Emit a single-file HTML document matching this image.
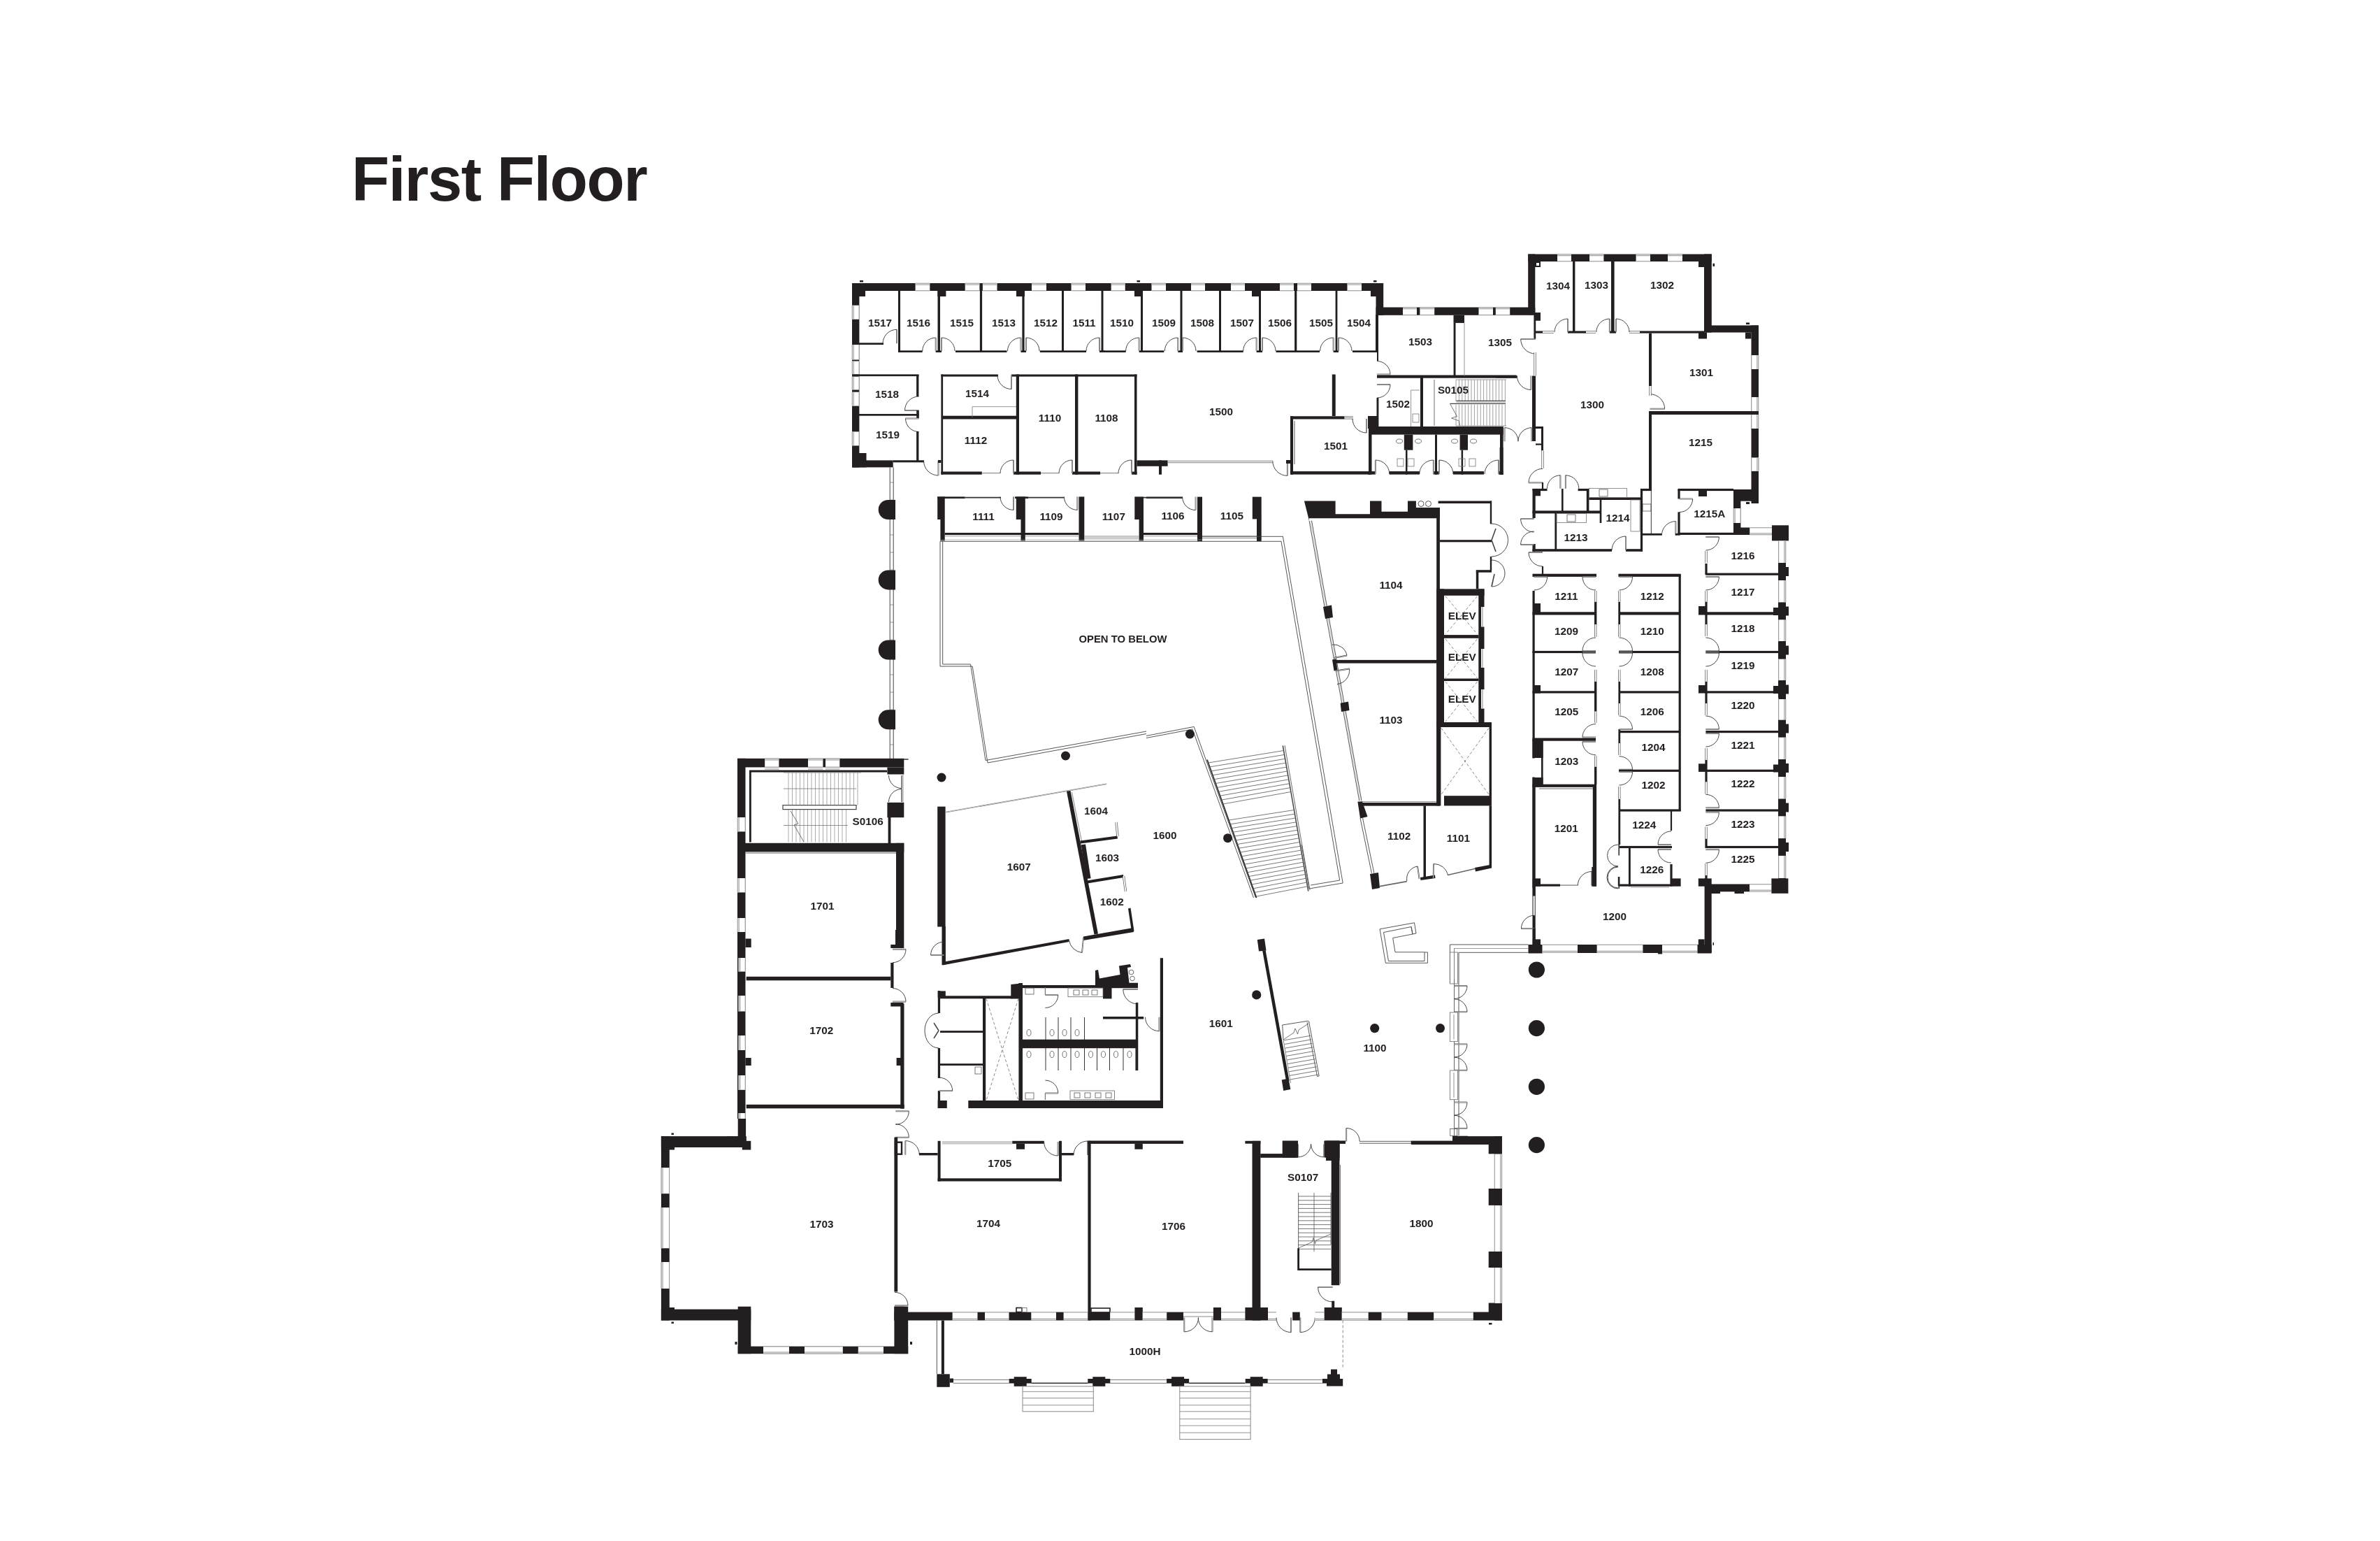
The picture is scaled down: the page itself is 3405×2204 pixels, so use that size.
<!DOCTYPE html>
<html><head><meta charset="utf-8"><style>
html,body{margin:0;padding:0;background:#fff;}
body{width:3405px;height:2204px;overflow:hidden;position:relative;}
svg{position:absolute;left:0;top:0;will-change:transform;}
text{font-family:"Liberation Sans",sans-serif;font-weight:bold;fill:#231f20;}
</style></head><body>
<svg width="3405" height="2204" viewBox="0 0 3405 2204">
<text x="503" y="286.5" font-size="88.5" letter-spacing="-1.4">First Floor</text>
<rect x="1219.0" y="405.0" width="760.0" height="11.0" fill="#231f20"/>
<rect x="1219.0" y="405.0" width="10.4" height="263.4" fill="#231f20"/>
<rect x="1219.0" y="658.4" width="58.7" height="10.0" fill="#231f20"/>
<rect x="1219.0" y="416.0" width="19.0" height="8.0" fill="#231f20"/>
<rect x="1219.0" y="648.0" width="20.5" height="20.4" fill="#231f20"/>
<rect x="1970.0" y="405.0" width="9.0" height="45.4" fill="#231f20"/>
<rect x="1961.0" y="416.0" width="9.0" height="8.0" fill="#231f20"/>
<rect x="1341.4" y="416.0" width="12.0" height="8.0" fill="#231f20"/>
<rect x="1454.0" y="416.0" width="12.0" height="8.0" fill="#231f20"/>
<rect x="1623.0" y="416.0" width="12.0" height="8.0" fill="#231f20"/>
<rect x="1791.0" y="416.0" width="12.0" height="8.0" fill="#231f20"/>
<rect x="1309.6" y="405.0" width="20.7" height="11.0" fill="#fff"/>
<rect x="1309.6" y="404.7" width="20.7" height="1.1" fill="#999"/>
<rect x="1309.6" y="406.6" width="20.7" height="1.1" fill="#999"/>
<rect x="1309.6" y="415.2" width="20.7" height="1.1" fill="#999"/>
<rect x="1380.7" y="405.0" width="20.7" height="11.0" fill="#fff"/>
<rect x="1380.7" y="404.7" width="20.7" height="1.1" fill="#999"/>
<rect x="1380.7" y="406.6" width="20.7" height="1.1" fill="#999"/>
<rect x="1380.7" y="415.2" width="20.7" height="1.1" fill="#999"/>
<rect x="1405.9" y="405.0" width="20.6" height="11.0" fill="#fff"/>
<rect x="1405.9" y="404.7" width="20.6" height="1.1" fill="#999"/>
<rect x="1405.9" y="406.6" width="20.6" height="1.1" fill="#999"/>
<rect x="1405.9" y="415.2" width="20.6" height="1.1" fill="#999"/>
<rect x="1476.0" y="405.0" width="21.0" height="11.0" fill="#fff"/>
<rect x="1476.0" y="404.7" width="21.0" height="1.1" fill="#999"/>
<rect x="1476.0" y="406.6" width="21.0" height="1.1" fill="#999"/>
<rect x="1476.0" y="415.2" width="21.0" height="1.1" fill="#999"/>
<rect x="1532.6" y="405.0" width="20.4" height="11.0" fill="#fff"/>
<rect x="1532.6" y="404.7" width="20.4" height="1.1" fill="#999"/>
<rect x="1532.6" y="406.6" width="20.4" height="1.1" fill="#999"/>
<rect x="1532.6" y="415.2" width="20.4" height="1.1" fill="#999"/>
<rect x="1589.7" y="405.0" width="20.0" height="11.0" fill="#fff"/>
<rect x="1589.7" y="404.7" width="20.0" height="1.1" fill="#999"/>
<rect x="1589.7" y="406.6" width="20.0" height="1.1" fill="#999"/>
<rect x="1589.7" y="415.2" width="20.0" height="1.1" fill="#999"/>
<rect x="1647.5" y="405.0" width="20.5" height="11.0" fill="#fff"/>
<rect x="1647.5" y="404.7" width="20.5" height="1.1" fill="#999"/>
<rect x="1647.5" y="406.6" width="20.5" height="1.1" fill="#999"/>
<rect x="1647.5" y="415.2" width="20.5" height="1.1" fill="#999"/>
<rect x="1704.0" y="405.0" width="20.0" height="11.0" fill="#fff"/>
<rect x="1704.0" y="404.7" width="20.0" height="1.1" fill="#999"/>
<rect x="1704.0" y="406.6" width="20.0" height="1.1" fill="#999"/>
<rect x="1704.0" y="415.2" width="20.0" height="1.1" fill="#999"/>
<rect x="1761.0" y="405.0" width="20.0" height="11.0" fill="#fff"/>
<rect x="1761.0" y="404.7" width="20.0" height="1.1" fill="#999"/>
<rect x="1761.0" y="406.6" width="20.0" height="1.1" fill="#999"/>
<rect x="1761.0" y="415.2" width="20.0" height="1.1" fill="#999"/>
<rect x="1831.0" y="405.0" width="20.0" height="11.0" fill="#fff"/>
<rect x="1831.0" y="404.7" width="20.0" height="1.1" fill="#999"/>
<rect x="1831.0" y="406.6" width="20.0" height="1.1" fill="#999"/>
<rect x="1831.0" y="415.2" width="20.0" height="1.1" fill="#999"/>
<rect x="1856.0" y="405.0" width="20.0" height="11.0" fill="#fff"/>
<rect x="1856.0" y="404.7" width="20.0" height="1.1" fill="#999"/>
<rect x="1856.0" y="406.6" width="20.0" height="1.1" fill="#999"/>
<rect x="1856.0" y="415.2" width="20.0" height="1.1" fill="#999"/>
<rect x="1927.5" y="405.0" width="20.5" height="11.0" fill="#fff"/>
<rect x="1927.5" y="404.7" width="20.5" height="1.1" fill="#999"/>
<rect x="1927.5" y="406.6" width="20.5" height="1.1" fill="#999"/>
<rect x="1927.5" y="415.2" width="20.5" height="1.1" fill="#999"/>
<rect x="1219.0" y="436.7" width="10.4" height="20.0" fill="#fff"/>
<rect x="1218.7" y="436.7" width="1.1" height="20.0" fill="#999"/>
<rect x="1220.6" y="436.7" width="1.1" height="20.0" fill="#999"/>
<rect x="1228.6" y="436.7" width="1.1" height="20.0" fill="#999"/>
<rect x="1219.0" y="493.0" width="10.4" height="21.5" fill="#fff"/>
<rect x="1218.7" y="493.0" width="1.1" height="21.5" fill="#999"/>
<rect x="1220.6" y="493.0" width="1.1" height="21.5" fill="#999"/>
<rect x="1228.6" y="493.0" width="1.1" height="21.5" fill="#999"/>
<rect x="1219.0" y="516.5" width="10.4" height="19.0" fill="#fff"/>
<rect x="1218.7" y="516.5" width="1.1" height="19.0" fill="#999"/>
<rect x="1220.6" y="516.5" width="1.1" height="19.0" fill="#999"/>
<rect x="1228.6" y="516.5" width="1.1" height="19.0" fill="#999"/>
<rect x="1219.0" y="538.6" width="10.4" height="18.9" fill="#fff"/>
<rect x="1218.7" y="538.6" width="1.1" height="18.9" fill="#999"/>
<rect x="1220.6" y="538.6" width="1.1" height="18.9" fill="#999"/>
<rect x="1228.6" y="538.6" width="1.1" height="18.9" fill="#999"/>
<rect x="1219.0" y="560.7" width="10.4" height="19.9" fill="#fff"/>
<rect x="1218.7" y="560.7" width="1.1" height="19.9" fill="#999"/>
<rect x="1220.6" y="560.7" width="1.1" height="19.9" fill="#999"/>
<rect x="1228.6" y="560.7" width="1.1" height="19.9" fill="#999"/>
<rect x="1219.0" y="617.4" width="10.4" height="20.0" fill="#fff"/>
<rect x="1218.7" y="617.4" width="1.1" height="20.0" fill="#999"/>
<rect x="1220.6" y="617.4" width="1.1" height="20.0" fill="#999"/>
<rect x="1228.6" y="617.4" width="1.1" height="20.0" fill="#999"/>
<rect x="1230.0" y="401.0" width="5.0" height="2.5" fill="#231f20"/>
<rect x="1626.5" y="401.0" width="4.5" height="2.5" fill="#231f20"/>
<rect x="1965.0" y="401.0" width="4.5" height="2.5" fill="#231f20"/>
<rect x="1285.0" y="416.0" width="3.0" height="88.0" fill="#231f20"/>
<rect x="1341.5" y="416.0" width="3.5" height="88.0" fill="#231f20"/>
<rect x="1401.9" y="416.0" width="3.2" height="88.0" fill="#231f20"/>
<rect x="1462.4" y="416.0" width="3.2" height="88.0" fill="#231f20"/>
<rect x="1519.0" y="416.0" width="3.0" height="88.0" fill="#231f20"/>
<rect x="1575.5" y="416.0" width="3.0" height="88.0" fill="#231f20"/>
<rect x="1632.0" y="416.0" width="3.0" height="88.0" fill="#231f20"/>
<rect x="1688.5" y="416.0" width="3.0" height="88.0" fill="#231f20"/>
<rect x="1744.0" y="416.0" width="3.0" height="88.0" fill="#231f20"/>
<rect x="1801.0" y="416.0" width="3.0" height="88.0" fill="#231f20"/>
<rect x="1852.1" y="416.0" width="3.2" height="88.0" fill="#231f20"/>
<rect x="1910.6" y="416.0" width="2.8" height="88.0" fill="#231f20"/>
<rect x="1969.0" y="416.0" width="9.0" height="34.0" fill="#231f20"/>
<rect x="1968.0" y="450.0" width="4.0" height="54.0" fill="#231f20"/>
<rect x="1229.0" y="490.3" width="35.0" height="2.7" fill="#231f20"/>
<rect x="1285.0" y="501.3" width="34.7" height="2.7" fill="#231f20"/>
<rect x="1338.7" y="501.3" width="8.3" height="2.7" fill="#231f20"/>
<rect x="1367.0" y="501.3" width="73.5" height="2.7" fill="#231f20"/>
<rect x="1460.5" y="501.3" width="7.5" height="2.7" fill="#231f20"/>
<rect x="1487.8" y="501.3" width="66.2" height="2.7" fill="#231f20"/>
<rect x="1573.0" y="501.3" width="7.6" height="2.7" fill="#231f20"/>
<rect x="1573.0" y="501.3" width="37.7" height="2.7" fill="#231f20"/>
<rect x="1629.6" y="501.3" width="35.7" height="2.7" fill="#231f20"/>
<rect x="1685.3" y="501.3" width="6.7" height="2.7" fill="#231f20"/>
<rect x="1712.6" y="501.3" width="66.1" height="2.7" fill="#231f20"/>
<rect x="1797.6" y="501.3" width="8.4" height="2.7" fill="#231f20"/>
<rect x="1825.5" y="501.3" width="62.5" height="2.7" fill="#231f20"/>
<rect x="1907.6" y="501.3" width="7.4" height="2.7" fill="#231f20"/>
<rect x="1935.0" y="501.3" width="37.0" height="2.7" fill="#231f20"/>
<line x1="1283.0" y1="491.3" x2="1283.0" y2="471.3" stroke="#444" stroke-width="1.8"/>
<line x1="1283.0" y1="491.3" x2="1283.0" y2="471.3" stroke="#fff" stroke-width="0.6"/>
<path d="M1283.0,471.3 A20.0,20.0 0 0 0 1263.0,491.3" fill="none" stroke="#333" stroke-width="0.9"/>
<line x1="1338.7" y1="502.0" x2="1338.7" y2="483.0" stroke="#444" stroke-width="1.8"/>
<line x1="1338.7" y1="502.0" x2="1338.7" y2="483.0" stroke="#fff" stroke-width="0.6"/>
<path d="M1338.7,483.0 A19.0,19.0 0 0 0 1319.7,502.0" fill="none" stroke="#333" stroke-width="0.9"/>
<line x1="1347.0" y1="502.0" x2="1347.0" y2="483.0" stroke="#444" stroke-width="1.8"/>
<line x1="1347.0" y1="502.0" x2="1347.0" y2="483.0" stroke="#fff" stroke-width="0.6"/>
<path d="M1347.0,483.0 A19.0,19.0 0 0 1 1366.0,502.0" fill="none" stroke="#333" stroke-width="0.9"/>
<line x1="1460.5" y1="502.0" x2="1460.5" y2="483.0" stroke="#444" stroke-width="1.8"/>
<line x1="1460.5" y1="502.0" x2="1460.5" y2="483.0" stroke="#fff" stroke-width="0.6"/>
<path d="M1460.5,483.0 A19.0,19.0 0 0 0 1441.5,502.0" fill="none" stroke="#333" stroke-width="0.9"/>
<line x1="1468.0" y1="502.0" x2="1468.0" y2="483.0" stroke="#444" stroke-width="1.8"/>
<line x1="1468.0" y1="502.0" x2="1468.0" y2="483.0" stroke="#fff" stroke-width="0.6"/>
<path d="M1468.0,483.0 A19.0,19.0 0 0 1 1487.0,502.0" fill="none" stroke="#333" stroke-width="0.9"/>
<line x1="1573.0" y1="502.0" x2="1573.0" y2="483.0" stroke="#444" stroke-width="1.8"/>
<line x1="1573.0" y1="502.0" x2="1573.0" y2="483.0" stroke="#fff" stroke-width="0.6"/>
<path d="M1573.0,483.0 A19.0,19.0 0 0 0 1554.0,502.0" fill="none" stroke="#333" stroke-width="0.9"/>
<line x1="1629.6" y1="502.0" x2="1629.6" y2="483.0" stroke="#444" stroke-width="1.8"/>
<line x1="1629.6" y1="502.0" x2="1629.6" y2="483.0" stroke="#fff" stroke-width="0.6"/>
<path d="M1629.6,483.0 A19.0,19.0 0 0 0 1610.6,502.0" fill="none" stroke="#333" stroke-width="0.9"/>
<line x1="1685.3" y1="502.0" x2="1685.3" y2="483.0" stroke="#444" stroke-width="1.8"/>
<line x1="1685.3" y1="502.0" x2="1685.3" y2="483.0" stroke="#fff" stroke-width="0.6"/>
<path d="M1685.3,483.0 A19.0,19.0 0 0 0 1666.3,502.0" fill="none" stroke="#333" stroke-width="0.9"/>
<line x1="1692.0" y1="502.0" x2="1692.0" y2="483.0" stroke="#444" stroke-width="1.8"/>
<line x1="1692.0" y1="502.0" x2="1692.0" y2="483.0" stroke="#fff" stroke-width="0.6"/>
<path d="M1692.0,483.0 A19.0,19.0 0 0 1 1711.0,502.0" fill="none" stroke="#333" stroke-width="0.9"/>
<line x1="1797.6" y1="502.0" x2="1797.6" y2="483.0" stroke="#444" stroke-width="1.8"/>
<line x1="1797.6" y1="502.0" x2="1797.6" y2="483.0" stroke="#fff" stroke-width="0.6"/>
<path d="M1797.6,483.0 A19.0,19.0 0 0 0 1778.6,502.0" fill="none" stroke="#333" stroke-width="0.9"/>
<line x1="1806.0" y1="502.0" x2="1806.0" y2="483.0" stroke="#444" stroke-width="1.8"/>
<line x1="1806.0" y1="502.0" x2="1806.0" y2="483.0" stroke="#fff" stroke-width="0.6"/>
<path d="M1806.0,483.0 A19.0,19.0 0 0 1 1825.0,502.0" fill="none" stroke="#333" stroke-width="0.9"/>
<line x1="1907.6" y1="502.0" x2="1907.6" y2="483.0" stroke="#444" stroke-width="1.8"/>
<line x1="1907.6" y1="502.0" x2="1907.6" y2="483.0" stroke="#fff" stroke-width="0.6"/>
<path d="M1907.6,483.0 A19.0,19.0 0 0 0 1888.6,502.0" fill="none" stroke="#333" stroke-width="0.9"/>
<line x1="1915.0" y1="502.0" x2="1915.0" y2="483.0" stroke="#444" stroke-width="1.8"/>
<line x1="1915.0" y1="502.0" x2="1915.0" y2="483.0" stroke="#fff" stroke-width="0.6"/>
<path d="M1915.0,483.0 A19.0,19.0 0 0 1 1934.0,502.0" fill="none" stroke="#333" stroke-width="0.9"/>
<text x="1259.0" y="467.3" font-size="15.3" text-anchor="middle">1517</text>
<text x="1314.0" y="467.3" font-size="15.3" text-anchor="middle">1516</text>
<text x="1376.0" y="467.3" font-size="15.3" text-anchor="middle">1515</text>
<text x="1436.0" y="467.3" font-size="15.3" text-anchor="middle">1513</text>
<text x="1496.0" y="467.3" font-size="15.3" text-anchor="middle">1512</text>
<text x="1551.0" y="467.3" font-size="15.3" text-anchor="middle">1511</text>
<text x="1605.0" y="467.3" font-size="15.3" text-anchor="middle">1510</text>
<text x="1665.0" y="467.3" font-size="15.3" text-anchor="middle">1509</text>
<text x="1720.0" y="467.3" font-size="15.3" text-anchor="middle">1508</text>
<text x="1777.0" y="467.3" font-size="15.3" text-anchor="middle">1507</text>
<text x="1831.0" y="467.3" font-size="15.3" text-anchor="middle">1506</text>
<text x="1890.0" y="467.3" font-size="15.3" text-anchor="middle">1505</text>
<text x="1944.0" y="467.3" font-size="15.3" text-anchor="middle">1504</text>
<rect x="1219.0" y="535.4" width="95.5" height="2.7" fill="#231f20"/>
<rect x="1311.1" y="536.0" width="3.3" height="31.0" fill="#231f20"/>
<line x1="1314.5" y1="587.0" x2="1294.5" y2="587.0" stroke="#444" stroke-width="1.8"/>
<line x1="1314.5" y1="587.0" x2="1294.5" y2="587.0" stroke="#fff" stroke-width="0.6"/>
<path d="M1294.5,587.0 A20.0,20.0 0 0 1 1314.5,567.0" fill="none" stroke="#333" stroke-width="0.9"/>
<rect x="1229.0" y="592.0" width="85.5" height="2.7" fill="#231f20"/>
<rect x="1311.2" y="587.0" width="3.6" height="11.5" fill="#231f20"/>
<line x1="1314.5" y1="598.5" x2="1295.5" y2="598.5" stroke="#444" stroke-width="1.8"/>
<line x1="1314.5" y1="598.5" x2="1295.5" y2="598.5" stroke="#fff" stroke-width="0.6"/>
<path d="M1295.5,598.5 A19.0,19.0 0 0 0 1314.5,617.5" fill="none" stroke="#333" stroke-width="0.9"/>
<rect x="1311.1" y="617.0" width="3.3" height="43.0" fill="#231f20"/>
<rect x="1277.7" y="658.3" width="44.3" height="3.0" fill="#231f20"/>
<text x="1269.0" y="569.3" font-size="15.3" text-anchor="middle">1518</text>
<text x="1270.0" y="626.8" font-size="15.3" text-anchor="middle">1519</text>
<rect x="1346.4" y="535.5" width="81.6" height="3.1" fill="#231f20"/>
<rect x="1447.0" y="535.5" width="179.5" height="3.1" fill="#231f20"/>
<line x1="1447.0" y1="536.5" x2="1447.0" y2="556.5" stroke="#444" stroke-width="1.8"/>
<line x1="1447.0" y1="536.5" x2="1447.0" y2="556.5" stroke="#fff" stroke-width="0.6"/>
<path d="M1447.0,556.5 A20.0,20.0 0 0 1 1427.0,536.5" fill="none" stroke="#333" stroke-width="0.9"/>
<rect x="1346.4" y="535.5" width="2.7" height="143.2" fill="#231f20"/>
<rect x="1349.0" y="594.7" width="109.0" height="4.8" fill="#231f20"/>
<polyline points="1391.0,597.0 1391.0,581.7 1454.0,581.7" fill="none" stroke="#777" stroke-width="0.8"/>
<rect x="1453.8" y="535.5" width="4.2" height="143.2" fill="#231f20"/>
<rect x="1538.0" y="535.5" width="4.4" height="143.2" fill="#231f20"/>
<rect x="1623.0" y="535.5" width="3.5" height="143.2" fill="#231f20"/>
<rect x="1346.4" y="674.5" width="58.4" height="4.2" fill="#231f20"/>
<rect x="1450.0" y="674.5" width="39.0" height="4.2" fill="#231f20"/>
<rect x="1534.0" y="674.5" width="40.0" height="4.2" fill="#231f20"/>
<rect x="1619.0" y="674.5" width="7.5" height="4.2" fill="#231f20"/>
<line x1="1404.8" y1="676.6" x2="1431.0" y2="676.6" stroke="#999" stroke-width="1.4"/>
<line x1="1489.0" y1="676.6" x2="1515.0" y2="676.6" stroke="#999" stroke-width="1.4"/>
<line x1="1574.0" y1="676.6" x2="1600.0" y2="676.6" stroke="#999" stroke-width="1.4"/>
<line x1="1450.0" y1="677.0" x2="1450.0" y2="658.0" stroke="#444" stroke-width="1.8"/>
<line x1="1450.0" y1="677.0" x2="1450.0" y2="658.0" stroke="#fff" stroke-width="0.6"/>
<path d="M1450.0,658.0 A19.0,19.0 0 0 0 1431.0,677.0" fill="none" stroke="#333" stroke-width="0.9"/>
<line x1="1534.0" y1="677.0" x2="1534.0" y2="658.0" stroke="#444" stroke-width="1.8"/>
<line x1="1534.0" y1="677.0" x2="1534.0" y2="658.0" stroke="#fff" stroke-width="0.6"/>
<path d="M1534.0,658.0 A19.0,19.0 0 0 0 1515.0,677.0" fill="none" stroke="#333" stroke-width="0.9"/>
<line x1="1619.0" y1="677.0" x2="1619.0" y2="658.0" stroke="#444" stroke-width="1.8"/>
<line x1="1619.0" y1="677.0" x2="1619.0" y2="658.0" stroke="#fff" stroke-width="0.6"/>
<path d="M1619.0,658.0 A19.0,19.0 0 0 0 1600.0,677.0" fill="none" stroke="#333" stroke-width="0.9"/>
<text x="1398.0" y="568.3" font-size="15.3" text-anchor="middle">1514</text>
<text x="1396.0" y="635.3" font-size="15.3" text-anchor="middle">1112</text>
<text x="1502.0" y="602.8" font-size="15.3" text-anchor="middle">1110</text>
<text x="1583.0" y="602.8" font-size="15.3" text-anchor="middle">1108</text>
<line x1="1342.5" y1="659.0" x2="1342.5" y2="680.0" stroke="#444" stroke-width="1.8"/>
<line x1="1342.5" y1="659.0" x2="1342.5" y2="680.0" stroke="#fff" stroke-width="0.6"/>
<path d="M1342.5,680.0 A21.0,21.0 0 0 1 1321.5,659.0" fill="none" stroke="#333" stroke-width="0.9"/>
<rect x="1342.0" y="658.0" width="4.4" height="4.0" fill="#231f20"/>
<rect x="1626.5" y="658.4" width="44.1" height="8.4" fill="#231f20"/>
<rect x="1658.0" y="658.4" width="4.0" height="20.3" fill="#231f20"/>
<line x1="1670.6" y1="659.4" x2="1820.8" y2="659.4" stroke="#999" stroke-width="1.3"/>
<line x1="1670.6" y1="661.6" x2="1820.8" y2="661.6" stroke="#999" stroke-width="1.3"/>
<line x1="1841.8" y1="659.4" x2="1841.8" y2="680.4" stroke="#444" stroke-width="1.8"/>
<line x1="1841.8" y1="659.4" x2="1841.8" y2="680.4" stroke="#fff" stroke-width="0.6"/>
<path d="M1841.8,680.4 A21.0,21.0 0 0 1 1820.8,659.4" fill="none" stroke="#333" stroke-width="0.9"/>
<rect x="1840.0" y="658.0" width="6.0" height="5.0" fill="#231f20"/>
<rect x="1905.8" y="535.5" width="4.9" height="59.5" fill="#231f20"/>
<rect x="1846.0" y="595.3" width="77.7" height="4.2" fill="#231f20"/>
<rect x="1846.0" y="595.3" width="4.0" height="83.4" fill="#231f20"/>
<line x1="1852.0" y1="602.0" x2="1852.0" y2="664.0" stroke="#777" stroke-width="1.2"/>
<rect x="1923.7" y="595.3" width="12.3" height="4.2" fill="#fff"/>
<rect x="1923.7" y="595.0" width="12.3" height="1.1" fill="#999"/>
<rect x="1923.7" y="596.9" width="12.3" height="1.1" fill="#999"/>
<rect x="1923.7" y="598.7" width="12.3" height="1.1" fill="#999"/>
<line x1="1955.0" y1="599.0" x2="1955.0" y2="619.0" stroke="#444" stroke-width="1.8"/>
<line x1="1955.0" y1="599.0" x2="1955.0" y2="619.0" stroke="#fff" stroke-width="0.6"/>
<path d="M1955.0,619.0 A20.0,20.0 0 0 1 1935.0,599.0" fill="none" stroke="#333" stroke-width="0.9"/>
<rect x="1957.0" y="595.0" width="15.0" height="18.0" fill="#231f20"/>
<rect x="1958.0" y="595.0" width="4.5" height="83.7" fill="#231f20"/>
<rect x="1846.0" y="674.1" width="114.0" height="4.5" fill="#231f20"/>
<text x="1911.0" y="643.3" font-size="15.3" text-anchor="middle">1501</text>
<text x="1747.0" y="594.3" font-size="15.3" text-anchor="middle">1500</text>
<line x1="1970.0" y1="535.5" x2="1989.0" y2="535.5" stroke="#444" stroke-width="1.8"/>
<line x1="1970.0" y1="535.5" x2="1989.0" y2="535.5" stroke="#fff" stroke-width="0.6"/>
<path d="M1989.0,535.5 A19.0,19.0 0 0 0 1970.0,516.5" fill="none" stroke="#333" stroke-width="0.9"/>
<rect x="1970.0" y="504.0" width="2.0" height="12.0" fill="#231f20"/>
<line x1="1970.0" y1="550.0" x2="1989.0" y2="550.0" stroke="#444" stroke-width="1.8"/>
<line x1="1970.0" y1="550.0" x2="1989.0" y2="550.0" stroke="#fff" stroke-width="0.6"/>
<path d="M1989.0,550.0 A19.0,19.0 0 0 1 1970.0,569.0" fill="none" stroke="#333" stroke-width="0.9"/>
<rect x="1969.5" y="569.0" width="2.9" height="44.0" fill="#231f20"/>
<rect x="2032.0" y="540.0" width="4.0" height="70.0" fill="#231f20"/>
<polyline points="2018.6,612.0 2018.6,558.0 2031.0,558.0" fill="none" stroke="#777" stroke-width="0.8"/>
<rect x="2021.0" y="592.0" width="9.0" height="13.0" fill="none"/>
<rect x="2021" y="592" width="9" height="12" fill="none" stroke="#777" stroke-width="0.8"/>
<rect x="1970.0" y="536.5" width="199.5" height="4.2" fill="#231f20"/>
<line x1="2052.0" y1="543.0" x2="2052.0" y2="609.0" stroke="#888" stroke-width="1.2"/>
<line x1="2083.0" y1="543.0" x2="2083.0" y2="574.0" stroke="#888" stroke-width="0.8"/>
<line x1="2083.0" y1="578.5" x2="2083.0" y2="609.0" stroke="#888" stroke-width="0.8"/>
<line x1="2087.4" y1="543.0" x2="2087.4" y2="574.0" stroke="#888" stroke-width="0.8"/>
<line x1="2087.4" y1="578.5" x2="2087.4" y2="609.0" stroke="#888" stroke-width="0.8"/>
<line x1="2091.8" y1="543.0" x2="2091.8" y2="574.0" stroke="#888" stroke-width="0.8"/>
<line x1="2091.8" y1="578.5" x2="2091.8" y2="609.0" stroke="#888" stroke-width="0.8"/>
<line x1="2096.2" y1="543.0" x2="2096.2" y2="574.0" stroke="#888" stroke-width="0.8"/>
<line x1="2096.2" y1="578.5" x2="2096.2" y2="609.0" stroke="#888" stroke-width="0.8"/>
<line x1="2100.6" y1="543.0" x2="2100.6" y2="574.0" stroke="#888" stroke-width="0.8"/>
<line x1="2100.6" y1="578.5" x2="2100.6" y2="609.0" stroke="#888" stroke-width="0.8"/>
<line x1="2105.0" y1="543.0" x2="2105.0" y2="574.0" stroke="#888" stroke-width="0.8"/>
<line x1="2105.0" y1="578.5" x2="2105.0" y2="609.0" stroke="#888" stroke-width="0.8"/>
<line x1="2109.4" y1="543.0" x2="2109.4" y2="574.0" stroke="#888" stroke-width="0.8"/>
<line x1="2109.4" y1="578.5" x2="2109.4" y2="609.0" stroke="#888" stroke-width="0.8"/>
<line x1="2113.8" y1="543.0" x2="2113.8" y2="574.0" stroke="#888" stroke-width="0.8"/>
<line x1="2113.8" y1="578.5" x2="2113.8" y2="609.0" stroke="#888" stroke-width="0.8"/>
<line x1="2118.2" y1="543.0" x2="2118.2" y2="574.0" stroke="#888" stroke-width="0.8"/>
<line x1="2118.2" y1="578.5" x2="2118.2" y2="609.0" stroke="#888" stroke-width="0.8"/>
<line x1="2122.6" y1="543.0" x2="2122.6" y2="574.0" stroke="#888" stroke-width="0.8"/>
<line x1="2122.6" y1="578.5" x2="2122.6" y2="609.0" stroke="#888" stroke-width="0.8"/>
<line x1="2127.0" y1="543.0" x2="2127.0" y2="574.0" stroke="#888" stroke-width="0.8"/>
<line x1="2127.0" y1="578.5" x2="2127.0" y2="609.0" stroke="#888" stroke-width="0.8"/>
<line x1="2131.4" y1="543.0" x2="2131.4" y2="574.0" stroke="#888" stroke-width="0.8"/>
<line x1="2131.4" y1="578.5" x2="2131.4" y2="609.0" stroke="#888" stroke-width="0.8"/>
<line x1="2135.8" y1="543.0" x2="2135.8" y2="574.0" stroke="#888" stroke-width="0.8"/>
<line x1="2135.8" y1="578.5" x2="2135.8" y2="609.0" stroke="#888" stroke-width="0.8"/>
<line x1="2140.2" y1="543.0" x2="2140.2" y2="574.0" stroke="#888" stroke-width="0.8"/>
<line x1="2140.2" y1="578.5" x2="2140.2" y2="609.0" stroke="#888" stroke-width="0.8"/>
<line x1="2144.6" y1="543.0" x2="2144.6" y2="574.0" stroke="#888" stroke-width="0.8"/>
<line x1="2144.6" y1="578.5" x2="2144.6" y2="609.0" stroke="#888" stroke-width="0.8"/>
<line x1="2149.0" y1="543.0" x2="2149.0" y2="574.0" stroke="#888" stroke-width="0.8"/>
<line x1="2149.0" y1="578.5" x2="2149.0" y2="609.0" stroke="#888" stroke-width="0.8"/>
<line x1="2153.4" y1="543.0" x2="2153.4" y2="574.0" stroke="#888" stroke-width="0.8"/>
<line x1="2153.4" y1="578.5" x2="2153.4" y2="609.0" stroke="#888" stroke-width="0.8"/>
<line x1="2083.0" y1="543.0" x2="2155.0" y2="543.0" stroke="#888" stroke-width="0.9"/>
<line x1="2083.5" y1="573.3" x2="2154.0" y2="573.3" stroke="#444" stroke-width="1.3"/>
<line x1="2074.5" y1="577.3" x2="2154.0" y2="577.3" stroke="#444" stroke-width="1.3"/>
<line x1="2083.5" y1="575.3" x2="2154.0" y2="575.3" stroke="#999" stroke-width="0.8"/>
<polyline points="2074.5,577.5 2084.5,595.5 2076.5,598.0 2087.5,602.0 2088.5,609.0" fill="none" stroke="#555" stroke-width="0.8"/>
<line x1="2083.0" y1="609.0" x2="2155.0" y2="609.0" stroke="#888" stroke-width="0.9"/>
<text x="2079.0" y="562.9" font-size="15.3" text-anchor="middle">S0105</text>
<text x="2000.0" y="583.3" font-size="15.3" text-anchor="middle">1502</text>
<text x="2032.0" y="494.3" font-size="15.3" text-anchor="middle">1503</text>
<text x="2146.0" y="495.3" font-size="15.3" text-anchor="middle">1305</text>
<rect x="1961.5" y="610.0" width="189.1" height="11.6" fill="#231f20"/>
<rect x="1957.0" y="674.1" width="193.6" height="4.5" fill="#231f20"/>
<rect x="2008.8" y="621.6" width="12.6" height="22.1" fill="#231f20"/>
<rect x="2011.0" y="643.7" width="2.5" height="35.0" fill="#231f20"/>
<rect x="2053.0" y="621.6" width="3.0" height="57.1" fill="#231f20"/>
<rect x="2088.6" y="621.6" width="11.4" height="22.1" fill="#231f20"/>
<rect x="2090.6" y="643.7" width="2.5" height="35.0" fill="#231f20"/>
<rect x="2146.0" y="610.0" width="4.6" height="68.7" fill="#231f20"/>
<rect x="1967.8" y="673.5" width="20.0" height="6.0" fill="#fff"/>
<rect x="2031.0" y="673.5" width="19.8" height="6.0" fill="#fff"/>
<rect x="2059.0" y="673.5" width="20.0" height="6.0" fill="#fff"/>
<rect x="2123.0" y="673.5" width="21.0" height="6.0" fill="#fff"/>
<line x1="1967.8" y1="678.0" x2="1967.8" y2="658.0" stroke="#444" stroke-width="1.8"/>
<line x1="1967.8" y1="678.0" x2="1967.8" y2="658.0" stroke="#fff" stroke-width="0.6"/>
<path d="M1967.8,658.0 A20.0,20.0 0 0 1 1987.8,678.0" fill="none" stroke="#333" stroke-width="0.9"/>
<line x1="2050.8" y1="678.0" x2="2050.8" y2="658.0" stroke="#444" stroke-width="1.8"/>
<line x1="2050.8" y1="678.0" x2="2050.8" y2="658.0" stroke="#fff" stroke-width="0.6"/>
<path d="M2050.8,658.0 A20.0,20.0 0 0 0 2030.8,678.0" fill="none" stroke="#333" stroke-width="0.9"/>
<line x1="2059.0" y1="678.0" x2="2059.0" y2="658.0" stroke="#444" stroke-width="1.8"/>
<line x1="2059.0" y1="678.0" x2="2059.0" y2="658.0" stroke="#fff" stroke-width="0.6"/>
<path d="M2059.0,658.0 A20.0,20.0 0 0 1 2079.0,678.0" fill="none" stroke="#333" stroke-width="0.9"/>
<line x1="2144.0" y1="678.0" x2="2144.0" y2="658.0" stroke="#444" stroke-width="1.8"/>
<line x1="2144.0" y1="678.0" x2="2144.0" y2="658.0" stroke="#fff" stroke-width="0.6"/>
<path d="M2144.0,658.0 A20.0,20.0 0 0 0 2124.0,678.0" fill="none" stroke="#333" stroke-width="0.9"/>
<ellipse cx="2002" cy="631" rx="4.5" ry="3" fill="none" stroke="#555" stroke-width="0.8"/>
<ellipse cx="2029" cy="631" rx="4.5" ry="3" fill="none" stroke="#555" stroke-width="0.8"/>
<ellipse cx="2081" cy="631" rx="4.5" ry="3" fill="none" stroke="#555" stroke-width="0.8"/>
<ellipse cx="2108" cy="631" rx="4.5" ry="3" fill="none" stroke="#555" stroke-width="0.8"/>
<rect x="1999" y="656" width="9" height="11" fill="none" stroke="#777" stroke-width="0.8"/>
<rect x="2014" y="656" width="9" height="11" fill="none" stroke="#777" stroke-width="0.8"/>
<rect x="2087" y="656" width="9" height="11" fill="none" stroke="#777" stroke-width="0.8"/>
<rect x="2102" y="656" width="9" height="11" fill="none" stroke="#777" stroke-width="0.8"/>
<rect x="2186.2" y="363.5" width="262.6" height="10.5" fill="#231f20"/>
<rect x="2186.2" y="363.5" width="10.1" height="86.8" fill="#231f20"/>
<rect x="2194.4" y="450.0" width="2.8" height="35.0" fill="#231f20"/>
<rect x="2195.7" y="447.0" width="8.3" height="11.7" fill="#231f20"/>
<rect x="2438.0" y="363.5" width="10.8" height="112.0" fill="#231f20"/>
<rect x="2196.0" y="374.0" width="8.0" height="8.0" fill="#231f20"/>
<rect x="2198.0" y="376.0" width="4.0" height="4.0" fill="#fff"/>
<rect x="2430.0" y="374.0" width="8.0" height="8.0" fill="#231f20"/>
<rect x="2450.5" y="376.8" width="2.5" height="4.2" fill="#231f20"/>
<rect x="2228.0" y="363.5" width="20.0" height="10.5" fill="#fff"/>
<rect x="2228.0" y="363.2" width="20.0" height="1.1" fill="#999"/>
<rect x="2228.0" y="365.1" width="20.0" height="1.1" fill="#999"/>
<rect x="2228.0" y="373.2" width="20.0" height="1.1" fill="#999"/>
<rect x="2274.0" y="363.5" width="20.4" height="10.5" fill="#fff"/>
<rect x="2274.0" y="363.2" width="20.4" height="1.1" fill="#999"/>
<rect x="2274.0" y="365.1" width="20.4" height="1.1" fill="#999"/>
<rect x="2274.0" y="373.2" width="20.4" height="1.1" fill="#999"/>
<rect x="2340.6" y="363.5" width="20.4" height="10.5" fill="#fff"/>
<rect x="2340.6" y="363.2" width="20.4" height="1.1" fill="#999"/>
<rect x="2340.6" y="365.1" width="20.4" height="1.1" fill="#999"/>
<rect x="2340.6" y="373.2" width="20.4" height="1.1" fill="#999"/>
<rect x="2386.0" y="363.5" width="21.0" height="10.5" fill="#fff"/>
<rect x="2386.0" y="363.2" width="21.0" height="1.1" fill="#999"/>
<rect x="2386.0" y="365.1" width="21.0" height="1.1" fill="#999"/>
<rect x="2386.0" y="373.2" width="21.0" height="1.1" fill="#999"/>
<rect x="2438.0" y="465.4" width="78.0" height="10.1" fill="#231f20"/>
<rect x="2505.5" y="465.4" width="10.5" height="254.6" fill="#231f20"/>
<rect x="2497.0" y="475.5" width="8.5" height="9.0" fill="#231f20"/>
<rect x="2430.0" y="475.5" width="12.0" height="9.0" fill="#231f20"/>
<rect x="2498.0" y="461.4" width="5.0" height="2.6" fill="#231f20"/>
<rect x="2250.0" y="374.0" width="3.4" height="101.0" fill="#231f20"/>
<rect x="2305.0" y="374.0" width="4.6" height="101.0" fill="#231f20"/>
<rect x="2196.0" y="473.4" width="11.0" height="3.2" fill="#231f20"/>
<rect x="2243.0" y="473.4" width="26.0" height="3.2" fill="#231f20"/>
<rect x="2302.8" y="473.4" width="9.2" height="3.2" fill="#231f20"/>
<rect x="2346.0" y="473.4" width="92.0" height="3.2" fill="#231f20"/>
<line x1="2207.0" y1="475.0" x2="2223.0" y2="475.0" stroke="#666" stroke-width="3.4"/>
<line x1="2207.0" y1="475.0" x2="2223.0" y2="475.0" stroke="#fff" stroke-width="1.8"/>
<line x1="2269.0" y1="475.0" x2="2283.0" y2="475.0" stroke="#666" stroke-width="3.4"/>
<line x1="2269.0" y1="475.0" x2="2283.0" y2="475.0" stroke="#fff" stroke-width="1.8"/>
<line x1="2331.0" y1="475.0" x2="2346.0" y2="475.0" stroke="#666" stroke-width="3.4"/>
<line x1="2331.0" y1="475.0" x2="2346.0" y2="475.0" stroke="#fff" stroke-width="1.8"/>
<line x1="2243.0" y1="475.0" x2="2243.0" y2="456.0" stroke="#444" stroke-width="1.8"/>
<line x1="2243.0" y1="475.0" x2="2243.0" y2="456.0" stroke="#fff" stroke-width="0.6"/>
<path d="M2243.0,456.0 A19.0,19.0 0 0 0 2224.0,475.0" fill="none" stroke="#333" stroke-width="0.9"/>
<line x1="2302.8" y1="475.0" x2="2302.8" y2="456.0" stroke="#444" stroke-width="1.8"/>
<line x1="2302.8" y1="475.0" x2="2302.8" y2="456.0" stroke="#fff" stroke-width="0.6"/>
<path d="M2302.8,456.0 A19.0,19.0 0 0 0 2283.8,475.0" fill="none" stroke="#333" stroke-width="0.9"/>
<line x1="2312.0" y1="475.0" x2="2312.0" y2="456.0" stroke="#444" stroke-width="1.8"/>
<line x1="2312.0" y1="475.0" x2="2312.0" y2="456.0" stroke="#fff" stroke-width="0.6"/>
<path d="M2312.0,456.0 A19.0,19.0 0 0 1 2331.0,475.0" fill="none" stroke="#333" stroke-width="0.9"/>
<text x="2229.0" y="414.3" font-size="15.3" text-anchor="middle">1304</text>
<text x="2284.0" y="413.3" font-size="15.3" text-anchor="middle">1303</text>
<text x="2378.0" y="413.3" font-size="15.3" text-anchor="middle">1302</text>
<rect x="2359.0" y="476.6" width="4.0" height="75.4" fill="#231f20"/>
<line x1="2360.6" y1="584.7" x2="2381.6" y2="584.7" stroke="#444" stroke-width="1.8"/>
<line x1="2360.6" y1="584.7" x2="2381.6" y2="584.7" stroke="#fff" stroke-width="0.6"/>
<path d="M2381.6,584.7 A21.0,21.0 0 0 0 2360.6,563.7" fill="none" stroke="#333" stroke-width="0.9"/>
<line x1="2361.0" y1="552.0" x2="2361.0" y2="566.0" stroke="#666" stroke-width="3.4"/>
<line x1="2361.0" y1="552.0" x2="2361.0" y2="566.0" stroke="#fff" stroke-width="1.8"/>
<rect x="2359.0" y="588.0" width="157.0" height="5.0" fill="#231f20"/>
<rect x="2359.0" y="588.0" width="4.0" height="113.0" fill="#231f20"/>
<text x="2434.0" y="538.3" font-size="15.3" text-anchor="middle">1301</text>
<text x="2278.0" y="583.8" font-size="15.3" text-anchor="middle">1300</text>
<text x="2433.0" y="638.3" font-size="15.3" text-anchor="middle">1215</text>
<rect x="2192.0" y="537.5" width="5.0" height="93.5" fill="#231f20"/>
<line x1="2196.7" y1="485.0" x2="2175.7" y2="485.0" stroke="#444" stroke-width="1.8"/>
<line x1="2196.7" y1="485.0" x2="2175.7" y2="485.0" stroke="#fff" stroke-width="0.6"/>
<path d="M2175.7,485.0 A21.0,21.0 0 0 0 2196.7,506.0" fill="none" stroke="#333" stroke-width="0.9"/>
<line x1="2196.0" y1="504.0" x2="2196.0" y2="537.5" stroke="#666" stroke-width="3.4"/>
<line x1="2196.0" y1="504.0" x2="2196.0" y2="537.5" stroke="#fff" stroke-width="1.8"/>
<rect x="2140.0" y="537.5" width="30.5" height="3.1" fill="#231f20"/>
<line x1="2190.4" y1="537.5" x2="2190.4" y2="557.5" stroke="#444" stroke-width="1.8"/>
<line x1="2190.4" y1="537.5" x2="2190.4" y2="557.5" stroke="#fff" stroke-width="0.6"/>
<path d="M2190.4,557.5 A20.0,20.0 0 0 1 2170.4,537.5" fill="none" stroke="#333" stroke-width="0.9"/>
<line x1="2152.5" y1="631.2" x2="2152.5" y2="611.7" stroke="#444" stroke-width="1.8"/>
<line x1="2152.5" y1="631.2" x2="2152.5" y2="611.7" stroke="#fff" stroke-width="0.6"/>
<path d="M2152.5,611.7 A19.5,19.5 0 0 1 2172.0,631.2" fill="none" stroke="#333" stroke-width="0.9"/>
<line x1="2191.4" y1="631.2" x2="2191.4" y2="611.7" stroke="#444" stroke-width="1.8"/>
<line x1="2191.4" y1="631.2" x2="2191.4" y2="611.7" stroke="#fff" stroke-width="0.6"/>
<path d="M2191.4,611.7 A19.5,19.5 0 0 0 2171.9,631.2" fill="none" stroke="#333" stroke-width="0.9"/>
<rect x="2195.7" y="610.0" width="12.3" height="3.0" fill="#231f20"/>
<rect x="2205.0" y="610.0" width="3.0" height="34.5" fill="#231f20"/>
<rect x="2197.0" y="634.4" width="8.0" height="2.2" fill="#231f20"/>
<rect x="2480.0" y="700.0" width="36.0" height="16.7" fill="#231f20"/>
<rect x="2505.5" y="654.7" width="10.5" height="18.9" fill="#fff"/>
<rect x="2505.2" y="654.7" width="1.1" height="18.9" fill="#999"/>
<rect x="2513.3" y="654.7" width="1.1" height="18.9" fill="#999"/>
<rect x="2515.2" y="654.7" width="1.1" height="18.9" fill="#999"/>
<rect x="2400.5" y="698.9" width="79.5" height="3.2" fill="#231f20"/>
<rect x="2430.0" y="701.0" width="12.0" height="9.0" fill="#231f20"/>
<rect x="2400.4" y="700.0" width="3.2" height="13.5" fill="#231f20"/>
<line x1="2402.6" y1="713.5" x2="2421.6" y2="713.5" stroke="#444" stroke-width="1.8"/>
<line x1="2402.6" y1="713.5" x2="2421.6" y2="713.5" stroke="#fff" stroke-width="0.6"/>
<path d="M2421.6,713.5 A19.0,19.0 0 0 1 2402.6,732.5" fill="none" stroke="#333" stroke-width="0.9"/>
<rect x="2400.4" y="732.4" width="3.2" height="32.6" fill="#231f20"/>
<rect x="2480.0" y="700.0" width="10.4" height="65.0" fill="#231f20"/>
<rect x="2480.0" y="727.0" width="10.4" height="21.0" fill="#fff"/>
<rect x="2479.7" y="727.0" width="1.1" height="21.0" fill="#999"/>
<rect x="2481.6" y="727.0" width="1.1" height="21.0" fill="#999"/>
<rect x="2489.6" y="727.0" width="1.1" height="21.0" fill="#999"/>
<rect x="2400.5" y="761.8" width="79.5" height="3.2" fill="#231f20"/>
<rect x="2480.0" y="754.5" width="23.5" height="10.5" fill="#231f20"/>
<rect x="2503.5" y="754.5" width="31.5" height="10.5" fill="#fff"/>
<rect x="2503.5" y="754.2" width="31.5" height="1.1" fill="#999"/>
<rect x="2503.5" y="762.3" width="31.5" height="1.1" fill="#999"/>
<rect x="2503.5" y="764.2" width="31.5" height="1.1" fill="#999"/>
<rect x="2535.0" y="751.3" width="24.0" height="22.1" fill="#231f20"/>
<rect x="2498.0" y="718.0" width="5.0" height="3.0" fill="#231f20"/>
<text x="2445.7" y="739.9" font-size="15.3" text-anchor="middle">1215A</text>
<rect x="2544.4" y="773.4" width="10.6" height="496.6" fill="#231f20"/>
<rect x="2544.4" y="773.4" width="10.6" height="31.6" fill="#fff"/>
<rect x="2544.1" y="773.4" width="1.1" height="31.6" fill="#999"/>
<rect x="2552.3" y="773.4" width="1.1" height="31.6" fill="#999"/>
<rect x="2554.2" y="773.4" width="1.1" height="31.6" fill="#999"/>
<rect x="2544.4" y="830.0" width="10.6" height="31.6" fill="#fff"/>
<rect x="2544.1" y="830.0" width="1.1" height="31.6" fill="#999"/>
<rect x="2552.3" y="830.0" width="1.1" height="31.6" fill="#999"/>
<rect x="2554.2" y="830.0" width="1.1" height="31.6" fill="#999"/>
<rect x="2544.4" y="886.0" width="10.6" height="31.0" fill="#fff"/>
<rect x="2544.1" y="886.0" width="1.1" height="31.0" fill="#999"/>
<rect x="2552.3" y="886.0" width="1.1" height="31.0" fill="#999"/>
<rect x="2554.2" y="886.0" width="1.1" height="31.0" fill="#999"/>
<rect x="2544.4" y="942.5" width="10.6" height="30.5" fill="#fff"/>
<rect x="2544.1" y="942.5" width="1.1" height="30.5" fill="#999"/>
<rect x="2552.3" y="942.5" width="1.1" height="30.5" fill="#999"/>
<rect x="2554.2" y="942.5" width="1.1" height="30.5" fill="#999"/>
<rect x="2544.0" y="805.2" width="11.0" height="24.6" fill="#231f20"/>
<rect x="2555.0" y="811.0" width="4.0" height="13.0" fill="#231f20"/>
<rect x="2544.0" y="861.7" width="11.0" height="24.6" fill="#231f20"/>
<rect x="2555.0" y="867.5" width="4.0" height="13.0" fill="#231f20"/>
<rect x="2537.0" y="869.0" width="7.0" height="11.0" fill="#231f20"/>
<rect x="2544.0" y="917.7" width="11.0" height="24.6" fill="#231f20"/>
<rect x="2555.0" y="923.5" width="4.0" height="13.0" fill="#231f20"/>
<rect x="2440.4" y="819.6" width="104.0" height="3.2" fill="#231f20"/>
<rect x="2440.4" y="875.3" width="104.0" height="4.2" fill="#231f20"/>
<rect x="2430.0" y="867.0" width="12.0" height="12.5" fill="#231f20"/>
<rect x="2440.4" y="930.9" width="104.0" height="3.2" fill="#231f20"/>
<rect x="2439.4" y="806.0" width="3.2" height="16.0" fill="#231f20"/>
<rect x="2439.4" y="860.6" width="3.2" height="32.4" fill="#231f20"/>
<line x1="2441.0" y1="788.0" x2="2441.0" y2="805.0" stroke="#666" stroke-width="3.4"/>
<line x1="2441.0" y1="788.0" x2="2441.0" y2="805.0" stroke="#fff" stroke-width="1.8"/>
<line x1="2441.0" y1="845.0" x2="2441.0" y2="860.6" stroke="#666" stroke-width="3.4"/>
<line x1="2441.0" y1="845.0" x2="2441.0" y2="860.6" stroke="#fff" stroke-width="1.8"/>
<line x1="2441.0" y1="893.0" x2="2441.0" y2="910.0" stroke="#666" stroke-width="3.4"/>
<line x1="2441.0" y1="893.0" x2="2441.0" y2="910.0" stroke="#fff" stroke-width="1.8"/>
<line x1="2440.4" y1="768.0" x2="2459.4" y2="768.0" stroke="#444" stroke-width="1.8"/>
<line x1="2440.4" y1="768.0" x2="2459.4" y2="768.0" stroke="#fff" stroke-width="0.6"/>
<path d="M2459.4,768.0 A19.0,19.0 0 0 1 2440.4,787.0" fill="none" stroke="#333" stroke-width="0.9"/>
<line x1="2440.4" y1="825.0" x2="2459.4" y2="825.0" stroke="#444" stroke-width="1.8"/>
<line x1="2440.4" y1="825.0" x2="2459.4" y2="825.0" stroke="#fff" stroke-width="0.6"/>
<path d="M2459.4,825.0 A19.0,19.0 0 0 1 2440.4,844.0" fill="none" stroke="#333" stroke-width="0.9"/>
<line x1="2440.4" y1="931.0" x2="2459.4" y2="931.0" stroke="#444" stroke-width="1.8"/>
<line x1="2440.4" y1="931.0" x2="2459.4" y2="931.0" stroke="#fff" stroke-width="0.6"/>
<path d="M2459.4,931.0 A19.0,19.0 0 0 0 2440.4,912.0" fill="none" stroke="#333" stroke-width="0.9"/>
<line x1="2440.4" y1="934.0" x2="2459.4" y2="934.0" stroke="#444" stroke-width="1.8"/>
<line x1="2440.4" y1="934.0" x2="2459.4" y2="934.0" stroke="#fff" stroke-width="0.6"/>
<path d="M2459.4,934.0 A19.0,19.0 0 0 1 2440.4,953.0" fill="none" stroke="#333" stroke-width="0.9"/>
<text x="2493.6" y="799.8" font-size="15.3" text-anchor="middle">1216</text>
<text x="2493.6" y="852.3" font-size="15.3" text-anchor="middle">1217</text>
<text x="2493.6" y="904.2" font-size="15.3" text-anchor="middle">1218</text>
<text x="2493.6" y="957.3" font-size="15.3" text-anchor="middle">1219</text>
<rect x="2192.5" y="820.7" width="91.5" height="4.2" fill="#231f20"/>
<rect x="2192.5" y="845.0" width="3.2" height="425.0" fill="#231f20"/>
<rect x="2193.6" y="863.0" width="10.4" height="14.4" fill="#231f20"/>
<line x1="2194.6" y1="825.0" x2="2213.6" y2="825.0" stroke="#444" stroke-width="1.8"/>
<line x1="2194.6" y1="825.0" x2="2213.6" y2="825.0" stroke="#fff" stroke-width="0.6"/>
<path d="M2213.6,825.0 A19.0,19.0 0 0 1 2194.6,844.0" fill="none" stroke="#333" stroke-width="0.9"/>
<line x1="2283.0" y1="825.0" x2="2264.0" y2="825.0" stroke="#444" stroke-width="1.8"/>
<line x1="2283.0" y1="825.0" x2="2264.0" y2="825.0" stroke="#fff" stroke-width="0.6"/>
<path d="M2264.0,825.0 A19.0,19.0 0 0 0 2283.0,844.0" fill="none" stroke="#333" stroke-width="0.9"/>
<rect x="2281.0" y="860.6" width="3.4" height="32.4" fill="#231f20"/>
<line x1="2282.7" y1="845.0" x2="2282.7" y2="860.6" stroke="#666" stroke-width="3.4"/>
<line x1="2282.7" y1="845.0" x2="2282.7" y2="860.6" stroke="#fff" stroke-width="1.8"/>
<line x1="2282.7" y1="893.0" x2="2282.7" y2="911.0" stroke="#666" stroke-width="3.4"/>
<line x1="2282.7" y1="893.0" x2="2282.7" y2="911.0" stroke="#fff" stroke-width="1.8"/>
<rect x="2192.5" y="875.3" width="90.5" height="4.2" fill="#231f20"/>
<rect x="2192.5" y="930.9" width="90.5" height="3.2" fill="#231f20"/>
<line x1="2283.0" y1="931.0" x2="2264.0" y2="931.0" stroke="#444" stroke-width="1.8"/>
<line x1="2283.0" y1="931.0" x2="2264.0" y2="931.0" stroke="#fff" stroke-width="0.6"/>
<path d="M2264.0,931.0 A19.0,19.0 0 0 1 2283.0,912.0" fill="none" stroke="#333" stroke-width="0.9"/>
<line x1="2283.0" y1="934.0" x2="2264.0" y2="934.0" stroke="#444" stroke-width="1.8"/>
<line x1="2283.0" y1="934.0" x2="2264.0" y2="934.0" stroke="#fff" stroke-width="0.6"/>
<path d="M2264.0,934.0 A19.0,19.0 0 0 0 2283.0,953.0" fill="none" stroke="#333" stroke-width="0.9"/>
<text x="2240.8" y="858.0" font-size="15.3" text-anchor="middle">1211</text>
<text x="2241.0" y="907.9" font-size="15.3" text-anchor="middle">1209</text>
<rect x="2315.4" y="820.7" width="89.3" height="4.2" fill="#231f20"/>
<rect x="2401.6" y="822.0" width="3.2" height="338.0" fill="#231f20"/>
<line x1="2316.5" y1="825.0" x2="2335.5" y2="825.0" stroke="#444" stroke-width="1.8"/>
<line x1="2316.5" y1="825.0" x2="2335.5" y2="825.0" stroke="#fff" stroke-width="0.6"/>
<path d="M2335.5,825.0 A19.0,19.0 0 0 1 2316.5,844.0" fill="none" stroke="#333" stroke-width="0.9"/>
<rect x="2315.3" y="860.6" width="2.8" height="32.4" fill="#231f20"/>
<line x1="2316.7" y1="845.0" x2="2316.7" y2="860.6" stroke="#666" stroke-width="3.4"/>
<line x1="2316.7" y1="845.0" x2="2316.7" y2="860.6" stroke="#fff" stroke-width="1.8"/>
<line x1="2316.7" y1="893.0" x2="2316.7" y2="911.0" stroke="#666" stroke-width="3.4"/>
<line x1="2316.7" y1="893.0" x2="2316.7" y2="911.0" stroke="#fff" stroke-width="1.8"/>
<rect x="2316.0" y="875.3" width="87.0" height="4.2" fill="#231f20"/>
<rect x="2316.0" y="930.9" width="87.0" height="3.2" fill="#231f20"/>
<line x1="2316.5" y1="931.0" x2="2335.5" y2="931.0" stroke="#444" stroke-width="1.8"/>
<line x1="2316.5" y1="931.0" x2="2335.5" y2="931.0" stroke="#fff" stroke-width="0.6"/>
<path d="M2335.5,931.0 A19.0,19.0 0 0 0 2316.5,912.0" fill="none" stroke="#333" stroke-width="0.9"/>
<line x1="2316.5" y1="934.0" x2="2335.5" y2="934.0" stroke="#444" stroke-width="1.8"/>
<line x1="2316.5" y1="934.0" x2="2335.5" y2="934.0" stroke="#fff" stroke-width="0.6"/>
<path d="M2335.5,934.0 A19.0,19.0 0 0 1 2316.5,953.0" fill="none" stroke="#333" stroke-width="0.9"/>
<text x="2363.7" y="858.0" font-size="15.3" text-anchor="middle">1212</text>
<text x="2363.7" y="907.9" font-size="15.3" text-anchor="middle">1210</text>
<rect x="2192.5" y="699.0" width="4.2" height="42.0" fill="#231f20"/>
<rect x="2192.5" y="778.0" width="4.2" height="10.7" fill="#231f20"/>
<line x1="2194.6" y1="742.0" x2="2175.6" y2="742.0" stroke="#444" stroke-width="1.8"/>
<line x1="2194.6" y1="742.0" x2="2175.6" y2="742.0" stroke="#fff" stroke-width="0.6"/>
<path d="M2175.6,742.0 A19.0,19.0 0 0 0 2194.6,761.0" fill="none" stroke="#333" stroke-width="0.9"/>
<line x1="2194.6" y1="779.0" x2="2175.6" y2="779.0" stroke="#444" stroke-width="1.8"/>
<line x1="2194.6" y1="779.0" x2="2175.6" y2="779.0" stroke="#fff" stroke-width="0.6"/>
<path d="M2175.6,779.0 A19.0,19.0 0 0 1 2194.6,760.0" fill="none" stroke="#333" stroke-width="0.9"/>
<rect x="2192.5" y="785.2" width="113.5" height="3.6" fill="#231f20"/>
<rect x="2326.0" y="785.2" width="24.0" height="3.6" fill="#231f20"/>
<line x1="2326.0" y1="787.0" x2="2326.0" y2="767.0" stroke="#444" stroke-width="1.8"/>
<line x1="2326.0" y1="787.0" x2="2326.0" y2="767.0" stroke="#fff" stroke-width="0.6"/>
<path d="M2326.0,767.0 A20.0,20.0 0 0 0 2306.0,787.0" fill="none" stroke="#333" stroke-width="0.9"/>
<rect x="2224.4" y="733.5" width="2.8" height="53.5" fill="#231f20"/>
<rect x="2192.5" y="698.9" width="21.0" height="3.2" fill="#231f20"/>
<rect x="2257.6" y="698.9" width="15.8" height="3.2" fill="#231f20"/>
<line x1="2232.4" y1="698.8" x2="2232.4" y2="679.8" stroke="#444" stroke-width="1.8"/>
<line x1="2232.4" y1="698.8" x2="2232.4" y2="679.8" stroke="#fff" stroke-width="0.6"/>
<path d="M2232.4,679.8 A19.0,19.0 0 0 0 2213.4,698.8" fill="none" stroke="#333" stroke-width="0.9"/>
<line x1="2239.8" y1="698.8" x2="2239.8" y2="679.8" stroke="#444" stroke-width="1.8"/>
<line x1="2239.8" y1="698.8" x2="2239.8" y2="679.8" stroke="#fff" stroke-width="0.6"/>
<path d="M2239.8,679.8 A19.0,19.0 0 0 1 2258.8,698.8" fill="none" stroke="#333" stroke-width="0.9"/>
<rect x="2234.0" y="699.0" width="2.6" height="32.0" fill="#231f20"/>
<rect x="2193.6" y="700.0" width="10.4" height="9.3" fill="#231f20"/>
<rect x="2192.5" y="730.4" width="97.1" height="4.0" fill="#231f20"/>
<rect x="2269.8" y="700.0" width="3.6" height="33.0" fill="#231f20"/>
<rect x="2273.4" y="711.4" width="74.6" height="3.6" fill="#231f20"/>
<rect x="2288.7" y="715.0" width="2.6" height="33.0" fill="#231f20"/>
<rect x="2273.4" y="698.4" width="54.2" height="13" fill="none" stroke="#777" stroke-width="0.8"/>
<rect x="2227" y="734.5" width="42.6" height="13.1" fill="none" stroke="#777" stroke-width="0.8"/>
<rect x="2333" y="715" width="13" height="45" fill="none" stroke="#777" stroke-width="0.8"/>
<rect x="2288" y="700" width="12" height="10" fill="none" stroke="#555" stroke-width="0.8"/>
<rect x="2242" y="736" width="12" height="10" fill="none" stroke="#555" stroke-width="0.8"/>
<rect x="2350" y="721" width="12" height="10" fill="none" stroke="#555" stroke-width="0.8"/>
<rect x="2347.0" y="698.9" width="16.0" height="3.2" fill="#231f20"/>
<rect x="2346.9" y="699.0" width="3.2" height="89.7" fill="#231f20"/>
<line x1="2362.4" y1="702.0" x2="2362.4" y2="763.0" stroke="#555" stroke-width="1.2"/>
<rect x="2350.0" y="762.9" width="27.4" height="2.8" fill="#231f20"/>
<line x1="2397.4" y1="765.6" x2="2397.4" y2="745.6" stroke="#444" stroke-width="1.8"/>
<line x1="2397.4" y1="765.6" x2="2397.4" y2="745.6" stroke="#fff" stroke-width="0.6"/>
<path d="M2397.4,745.6 A20.0,20.0 0 0 0 2377.4,765.6" fill="none" stroke="#333" stroke-width="0.9"/>
<rect x="2397.0" y="762.9" width="6.7" height="2.8" fill="#231f20"/>
<text x="2314.4" y="746.3" font-size="15.3" text-anchor="middle">1214</text>
<text x="2254.5" y="773.9" font-size="15.3" text-anchor="middle">1213</text>
<line x1="2207.0" y1="790.0" x2="2187.0" y2="790.0" stroke="#444" stroke-width="1.8"/>
<line x1="2207.0" y1="790.0" x2="2187.0" y2="790.0" stroke="#fff" stroke-width="0.6"/>
<path d="M2187.0,790.0 A20.0,20.0 0 0 0 2207.0,810.0" fill="none" stroke="#333" stroke-width="0.9"/>
<rect x="2205.9" y="810.0" width="2.2" height="11.0" fill="#231f20"/>
<rect x="2145.6" y="640.0" width="4.9" height="39.0" fill="#231f20"/>
<line x1="2207.0" y1="644.5" x2="2207.0" y2="670.0" stroke="#666" stroke-width="3.4"/>
<line x1="2207.0" y1="644.5" x2="2207.0" y2="670.0" stroke="#fff" stroke-width="1.8"/>
<line x1="2207.0" y1="690.4" x2="2187.0" y2="690.4" stroke="#444" stroke-width="1.8"/>
<line x1="2207.0" y1="690.4" x2="2187.0" y2="690.4" stroke="#fff" stroke-width="0.6"/>
<path d="M2187.0,690.4 A20.0,20.0 0 0 1 2207.0,670.4" fill="none" stroke="#333" stroke-width="0.9"/>
<rect x="2205.9" y="690.0" width="2.2" height="9.0" fill="#231f20"/>
<rect x="2192.5" y="988.3" width="90.5" height="3.2" fill="#231f20"/>
<rect x="2193.6" y="980.0" width="10.4" height="11.5" fill="#231f20"/>
<rect x="2281.0" y="974.7" width="3.4" height="43.0" fill="#231f20"/>
<rect x="2281.0" y="1096.5" width="3.4" height="25.5" fill="#231f20"/>
<line x1="2282.7" y1="957.9" x2="2282.7" y2="974.7" stroke="#666" stroke-width="3.4"/>
<line x1="2282.7" y1="957.9" x2="2282.7" y2="974.7" stroke="#fff" stroke-width="1.8"/>
<line x1="2282.7" y1="1017.7" x2="2282.7" y2="1033.5" stroke="#666" stroke-width="3.4"/>
<line x1="2282.7" y1="1017.7" x2="2282.7" y2="1033.5" stroke="#fff" stroke-width="1.8"/>
<line x1="2282.7" y1="1080.8" x2="2282.7" y2="1096.5" stroke="#666" stroke-width="3.4"/>
<line x1="2282.7" y1="1080.8" x2="2282.7" y2="1096.5" stroke="#fff" stroke-width="1.8"/>
<line x1="2283.0" y1="1054.5" x2="2264.0" y2="1054.5" stroke="#444" stroke-width="1.8"/>
<line x1="2283.0" y1="1054.5" x2="2264.0" y2="1054.5" stroke="#fff" stroke-width="0.6"/>
<path d="M2264.0,1054.5 A19.0,19.0 0 0 1 2283.0,1035.5" fill="none" stroke="#333" stroke-width="0.9"/>
<line x1="2283.0" y1="1060.8" x2="2264.0" y2="1060.8" stroke="#444" stroke-width="1.8"/>
<line x1="2283.0" y1="1060.8" x2="2264.0" y2="1060.8" stroke="#fff" stroke-width="0.6"/>
<path d="M2264.0,1060.8 A19.0,19.0 0 0 0 2283.0,1079.8" fill="none" stroke="#333" stroke-width="0.9"/>
<rect x="2192.5" y="1055.5" width="90.5" height="4.2" fill="#231f20"/>
<rect x="2192.5" y="1057.6" width="15.1" height="26.4" fill="#231f20"/>
<rect x="2192.5" y="1112.0" width="15.1" height="13.0" fill="#231f20"/>
<rect x="2205.0" y="1057.0" width="2.6" height="68.0" fill="#231f20"/>
<rect x="2190.0" y="1084.5" width="14.5" height="27.0" fill="#fff"/>
<rect x="2192.5" y="1121.7" width="90.5" height="4.2" fill="#231f20"/>
<line x1="2202.0" y1="1128.0" x2="2279.0" y2="1128.0" stroke="#999" stroke-width="1.6"/>
<rect x="2192.5" y="1125.0" width="4.2" height="227.0" fill="#231f20"/>
<rect x="2278.8" y="1122.0" width="5.3" height="145.7" fill="#231f20"/>
<text x="2241.3" y="966.3" font-size="15.3" text-anchor="middle">1207</text>
<text x="2241.3" y="1023.1" font-size="15.3" text-anchor="middle">1205</text>
<text x="2241.3" y="1094.1" font-size="15.3" text-anchor="middle">1203</text>
<text x="2240.8" y="1190.1" font-size="15.3" text-anchor="middle">1201</text>
<rect x="2315.4" y="974.7" width="2.8" height="31.3" fill="#231f20"/>
<rect x="2315.4" y="1043.0" width="2.8" height="20.0" fill="#231f20"/>
<rect x="2315.4" y="1142.7" width="2.8" height="65.3" fill="#231f20"/>
<line x1="2316.8" y1="957.9" x2="2316.8" y2="974.7" stroke="#666" stroke-width="3.4"/>
<line x1="2316.8" y1="957.9" x2="2316.8" y2="974.7" stroke="#fff" stroke-width="1.8"/>
<line x1="2316.8" y1="1006.0" x2="2316.8" y2="1023.0" stroke="#666" stroke-width="3.4"/>
<line x1="2316.8" y1="1006.0" x2="2316.8" y2="1023.0" stroke="#fff" stroke-width="1.8"/>
<line x1="2316.8" y1="1063.0" x2="2316.8" y2="1079.7" stroke="#666" stroke-width="3.4"/>
<line x1="2316.8" y1="1063.0" x2="2316.8" y2="1079.7" stroke="#fff" stroke-width="1.8"/>
<line x1="2316.8" y1="1124.9" x2="2316.8" y2="1142.7" stroke="#666" stroke-width="3.4"/>
<line x1="2316.8" y1="1124.9" x2="2316.8" y2="1142.7" stroke="#fff" stroke-width="1.8"/>
<rect x="2316.0" y="988.3" width="87.0" height="3.2" fill="#231f20"/>
<line x1="2316.5" y1="1043.0" x2="2335.5" y2="1043.0" stroke="#444" stroke-width="1.8"/>
<line x1="2316.5" y1="1043.0" x2="2335.5" y2="1043.0" stroke="#fff" stroke-width="0.6"/>
<path d="M2335.5,1043.0 A19.0,19.0 0 0 0 2316.5,1024.0" fill="none" stroke="#333" stroke-width="0.9"/>
<rect x="2316.0" y="1045.0" width="87.0" height="3.2" fill="#231f20"/>
<line x1="2316.5" y1="1100.7" x2="2335.5" y2="1100.7" stroke="#444" stroke-width="1.8"/>
<line x1="2316.5" y1="1100.7" x2="2335.5" y2="1100.7" stroke="#fff" stroke-width="0.6"/>
<path d="M2335.5,1100.7 A19.0,19.0 0 0 0 2316.5,1081.7" fill="none" stroke="#333" stroke-width="0.9"/>
<rect x="2316.0" y="1100.7" width="87.0" height="3.2" fill="#231f20"/>
<line x1="2316.5" y1="1104.0" x2="2335.5" y2="1104.0" stroke="#444" stroke-width="1.8"/>
<line x1="2316.5" y1="1104.0" x2="2335.5" y2="1104.0" stroke="#fff" stroke-width="0.6"/>
<path d="M2335.5,1104.0 A19.0,19.0 0 0 1 2316.5,1123.0" fill="none" stroke="#333" stroke-width="0.9"/>
<rect x="2316.0" y="1157.4" width="88.7" height="3.2" fill="#231f20"/>
<rect x="2389.9" y="1160.0" width="2.2" height="28.0" fill="#231f20"/>
<line x1="2391.0" y1="1207.9" x2="2372.0" y2="1207.9" stroke="#444" stroke-width="1.8"/>
<line x1="2391.0" y1="1207.9" x2="2372.0" y2="1207.9" stroke="#fff" stroke-width="0.6"/>
<path d="M2372.0,1207.9 A19.0,19.0 0 0 1 2391.0,1188.9" fill="none" stroke="#333" stroke-width="0.9"/>
<rect x="2316.0" y="1209.9" width="76.0" height="3.2" fill="#231f20"/>
<line x1="2391.0" y1="1215.0" x2="2372.0" y2="1215.0" stroke="#444" stroke-width="1.8"/>
<line x1="2391.0" y1="1215.0" x2="2372.0" y2="1215.0" stroke="#fff" stroke-width="0.6"/>
<path d="M2372.0,1215.0 A19.0,19.0 0 0 0 2391.0,1234.0" fill="none" stroke="#333" stroke-width="0.9"/>
<rect x="2330.0" y="1213.0" width="2.8" height="54.7" fill="#231f20"/>
<rect x="2389.4" y="1236.0" width="3.2" height="31.7" fill="#231f20"/>
<line x1="2316.2" y1="1208.0" x2="2316.2" y2="1223.5" stroke="#444" stroke-width="1.8"/>
<line x1="2316.2" y1="1255.5" x2="2316.2" y2="1271.0" stroke="#444" stroke-width="1.8"/>
<path d="M2315,1208 A15.5,15.5 0 0 0 2315,1239 A15.5,15.5 0 0 0 2315,1271" fill="none" stroke="#333" stroke-width="0.9"/>
<text x="2363.7" y="966.3" font-size="15.3" text-anchor="middle">1208</text>
<text x="2363.7" y="1023.1" font-size="15.3" text-anchor="middle">1206</text>
<text x="2365.4" y="1073.5" font-size="15.3" text-anchor="middle">1204</text>
<text x="2365.4" y="1127.5" font-size="15.3" text-anchor="middle">1202</text>
<text x="2352.2" y="1184.8" font-size="15.3" text-anchor="middle">1224</text>
<text x="2363.3" y="1248.5" font-size="15.3" text-anchor="middle">1226</text>
<rect x="2439.4" y="974.7" width="3.2" height="31.3" fill="#231f20"/>
<rect x="2439.4" y="1087.0" width="3.2" height="31.6" fill="#231f20"/>
<rect x="2439.4" y="1199.4" width="3.2" height="13.6" fill="#231f20"/>
<rect x="2439.4" y="1252.0" width="3.2" height="15.7" fill="#231f20"/>
<line x1="2441.0" y1="957.9" x2="2441.0" y2="974.7" stroke="#666" stroke-width="3.4"/>
<line x1="2441.0" y1="957.9" x2="2441.0" y2="974.7" stroke="#fff" stroke-width="1.8"/>
<line x1="2441.0" y1="1006.0" x2="2441.0" y2="1023.0" stroke="#666" stroke-width="3.4"/>
<line x1="2441.0" y1="1006.0" x2="2441.0" y2="1023.0" stroke="#fff" stroke-width="1.8"/>
<line x1="2441.0" y1="1070.0" x2="2441.0" y2="1087.0" stroke="#666" stroke-width="3.4"/>
<line x1="2441.0" y1="1070.0" x2="2441.0" y2="1087.0" stroke="#fff" stroke-width="1.8"/>
<line x1="2441.0" y1="1118.6" x2="2441.0" y2="1135.4" stroke="#666" stroke-width="3.4"/>
<line x1="2441.0" y1="1118.6" x2="2441.0" y2="1135.4" stroke="#fff" stroke-width="1.8"/>
<line x1="2441.0" y1="1182.6" x2="2441.0" y2="1199.4" stroke="#666" stroke-width="3.4"/>
<line x1="2441.0" y1="1182.6" x2="2441.0" y2="1199.4" stroke="#fff" stroke-width="1.8"/>
<line x1="2441.0" y1="1235.0" x2="2441.0" y2="1252.0" stroke="#666" stroke-width="3.4"/>
<line x1="2441.0" y1="1235.0" x2="2441.0" y2="1252.0" stroke="#fff" stroke-width="1.8"/>
<rect x="2440.4" y="988.3" width="104.0" height="3.2" fill="#231f20"/>
<rect x="2430.0" y="980.0" width="12.0" height="11.5" fill="#231f20"/>
<rect x="2440.4" y="1045.0" width="104.0" height="3.2" fill="#231f20"/>
<rect x="2440.4" y="1100.7" width="104.0" height="3.2" fill="#231f20"/>
<rect x="2430.0" y="1092.3" width="12.0" height="11.6" fill="#231f20"/>
<rect x="2440.4" y="1157.4" width="104.0" height="3.2" fill="#231f20"/>
<rect x="2440.4" y="1209.9" width="104.0" height="3.2" fill="#231f20"/>
<line x1="2440.4" y1="1043.0" x2="2459.4" y2="1043.0" stroke="#444" stroke-width="1.8"/>
<line x1="2440.4" y1="1043.0" x2="2459.4" y2="1043.0" stroke="#fff" stroke-width="0.6"/>
<path d="M2459.4,1043.0 A19.0,19.0 0 0 0 2440.4,1024.0" fill="none" stroke="#333" stroke-width="0.9"/>
<line x1="2440.4" y1="1049.0" x2="2459.4" y2="1049.0" stroke="#444" stroke-width="1.8"/>
<line x1="2440.4" y1="1049.0" x2="2459.4" y2="1049.0" stroke="#fff" stroke-width="0.6"/>
<path d="M2459.4,1049.0 A19.0,19.0 0 0 1 2440.4,1068.0" fill="none" stroke="#333" stroke-width="0.9"/>
<line x1="2440.4" y1="1155.3" x2="2459.4" y2="1155.3" stroke="#444" stroke-width="1.8"/>
<line x1="2440.4" y1="1155.3" x2="2459.4" y2="1155.3" stroke="#fff" stroke-width="0.6"/>
<path d="M2459.4,1155.3 A19.0,19.0 0 0 0 2440.4,1136.3" fill="none" stroke="#333" stroke-width="0.9"/>
<line x1="2440.4" y1="1161.6" x2="2459.4" y2="1161.6" stroke="#444" stroke-width="1.8"/>
<line x1="2440.4" y1="1161.6" x2="2459.4" y2="1161.6" stroke="#fff" stroke-width="0.6"/>
<path d="M2459.4,1161.6 A19.0,19.0 0 0 1 2440.4,1180.6" fill="none" stroke="#333" stroke-width="0.9"/>
<line x1="2440.4" y1="1215.2" x2="2459.4" y2="1215.2" stroke="#444" stroke-width="1.8"/>
<line x1="2440.4" y1="1215.2" x2="2459.4" y2="1215.2" stroke="#fff" stroke-width="0.6"/>
<path d="M2459.4,1215.2 A19.0,19.0 0 0 1 2440.4,1234.2" fill="none" stroke="#333" stroke-width="0.9"/>
<rect x="2544.4" y="1000.0" width="10.6" height="30.0" fill="#fff"/>
<rect x="2544.1" y="1000.0" width="1.1" height="30.0" fill="#999"/>
<rect x="2552.3" y="1000.0" width="1.1" height="30.0" fill="#999"/>
<rect x="2554.2" y="1000.0" width="1.1" height="30.0" fill="#999"/>
<rect x="2544.4" y="1054.5" width="10.6" height="31.5" fill="#fff"/>
<rect x="2544.1" y="1054.5" width="1.1" height="31.5" fill="#999"/>
<rect x="2552.3" y="1054.5" width="1.1" height="31.5" fill="#999"/>
<rect x="2554.2" y="1054.5" width="1.1" height="31.5" fill="#999"/>
<rect x="2544.4" y="1111.0" width="10.6" height="31.7" fill="#fff"/>
<rect x="2544.1" y="1111.0" width="1.1" height="31.7" fill="#999"/>
<rect x="2552.3" y="1111.0" width="1.1" height="31.7" fill="#999"/>
<rect x="2554.2" y="1111.0" width="1.1" height="31.7" fill="#999"/>
<rect x="2544.4" y="1167.0" width="10.6" height="32.4" fill="#fff"/>
<rect x="2544.1" y="1167.0" width="1.1" height="32.4" fill="#999"/>
<rect x="2552.3" y="1167.0" width="1.1" height="32.4" fill="#999"/>
<rect x="2554.2" y="1167.0" width="1.1" height="32.4" fill="#999"/>
<rect x="2544.4" y="1223.6" width="10.6" height="32.4" fill="#fff"/>
<rect x="2544.1" y="1223.6" width="1.1" height="32.4" fill="#999"/>
<rect x="2552.3" y="1223.6" width="1.1" height="32.4" fill="#999"/>
<rect x="2554.2" y="1223.6" width="1.1" height="32.4" fill="#999"/>
<rect x="2544.0" y="973.7" width="11.0" height="24.6" fill="#231f20"/>
<rect x="2555.0" y="979.5" width="4.0" height="13.0" fill="#231f20"/>
<rect x="2537.0" y="981.0" width="7.0" height="11.0" fill="#231f20"/>
<rect x="2544.0" y="1029.7" width="11.0" height="24.6" fill="#231f20"/>
<rect x="2555.0" y="1035.5" width="4.0" height="13.0" fill="#231f20"/>
<rect x="2544.0" y="1086.2" width="11.0" height="24.6" fill="#231f20"/>
<rect x="2555.0" y="1092.0" width="4.0" height="13.0" fill="#231f20"/>
<rect x="2537.0" y="1093.5" width="7.0" height="11.0" fill="#231f20"/>
<rect x="2544.0" y="1142.7" width="11.0" height="24.6" fill="#231f20"/>
<rect x="2555.0" y="1148.5" width="4.0" height="13.0" fill="#231f20"/>
<rect x="2544.0" y="1199.2" width="11.0" height="24.6" fill="#231f20"/>
<rect x="2555.0" y="1205.0" width="4.0" height="13.0" fill="#231f20"/>
<text x="2493.6" y="1013.6" font-size="15.3" text-anchor="middle">1220</text>
<text x="2493.6" y="1071.3" font-size="15.3" text-anchor="middle">1221</text>
<text x="2493.6" y="1126.0" font-size="15.3" text-anchor="middle">1222</text>
<text x="2493.6" y="1183.8" font-size="15.3" text-anchor="middle">1223</text>
<text x="2493.6" y="1234.3" font-size="15.3" text-anchor="middle">1225</text>
<rect x="2192.8" y="1267.0" width="3.8" height="14.6" fill="#231f20"/>
<line x1="2194.7" y1="1281.6" x2="2194.7" y2="1309.3" stroke="#666" stroke-width="3.4"/>
<line x1="2194.7" y1="1281.6" x2="2194.7" y2="1309.3" stroke="#fff" stroke-width="1.8"/>
<line x1="2195.4" y1="1328.2" x2="2176.4" y2="1328.2" stroke="#444" stroke-width="1.8"/>
<line x1="2195.4" y1="1328.2" x2="2176.4" y2="1328.2" stroke="#fff" stroke-width="0.6"/>
<path d="M2176.4,1328.2 A19.0,19.0 0 0 1 2195.4,1309.2" fill="none" stroke="#333" stroke-width="0.9"/>
<rect x="2192.8" y="1328.0" width="3.8" height="23.0" fill="#231f20"/>
<rect x="2192.8" y="1256.4" width="11.2" height="11.3" fill="#231f20"/>
<rect x="2196.6" y="1264.5" width="35.4" height="3.2" fill="#231f20"/>
<line x1="2232.0" y1="1266.1" x2="2257.0" y2="1266.1" stroke="#999" stroke-width="1.6"/>
<line x1="2277.3" y1="1266.5" x2="2277.3" y2="1246.5" stroke="#444" stroke-width="1.8"/>
<line x1="2277.3" y1="1266.5" x2="2277.3" y2="1246.5" stroke="#fff" stroke-width="0.6"/>
<path d="M2277.3,1246.5 A20.0,20.0 0 0 0 2257.3,1266.5" fill="none" stroke="#333" stroke-width="0.9"/>
<rect x="2277.3" y="1240.0" width="6.3" height="27.7" fill="#231f20"/>
<path d="M2315,1240 A15,15 0 0 0 2315,1270" fill="none" stroke="#333" stroke-width="0.9"/>
<rect x="2314.8" y="1254.0" width="2.5" height="13.0" fill="#231f20"/>
<rect x="2316.0" y="1264.5" width="74.7" height="3.2" fill="#231f20"/>
<rect x="2390.7" y="1256.4" width="13.9" height="11.3" fill="#231f20"/>
<line x1="2333.0" y1="1269.0" x2="2388.0" y2="1269.0" stroke="#999" stroke-width="1.2"/>
<rect x="2429.8" y="1256.4" width="11.2" height="11.3" fill="#231f20"/>
<rect x="2438.6" y="1256.4" width="10.1" height="105.9" fill="#231f20"/>
<rect x="2441.0" y="1264.5" width="62.0" height="10.8" fill="#231f20"/>
<rect x="2448.0" y="1275.0" width="13.0" height="3.0" fill="#231f20"/>
<rect x="2481.5" y="1275.0" width="13.5" height="3.0" fill="#231f20"/>
<rect x="2503.0" y="1264.5" width="31.4" height="10.8" fill="#fff"/>
<rect x="2503.0" y="1264.2" width="31.4" height="1.1" fill="#999"/>
<rect x="2503.0" y="1272.6" width="31.4" height="1.1" fill="#999"/>
<rect x="2503.0" y="1274.5" width="31.4" height="1.1" fill="#999"/>
<rect x="2534.4" y="1256.4" width="24.0" height="21.4" fill="#231f20"/>
<rect x="2186.5" y="1351.0" width="20.2" height="12.5" fill="#231f20"/>
<rect x="2192.8" y="1343.4" width="11.2" height="7.6" fill="#231f20"/>
<rect x="2206.7" y="1351.0" width="50.3" height="11.5" fill="#fff"/>
<rect x="2206.7" y="1350.7" width="50.3" height="1.1" fill="#999"/>
<rect x="2206.7" y="1359.8" width="50.3" height="1.1" fill="#999"/>
<rect x="2206.7" y="1361.7" width="50.3" height="1.1" fill="#999"/>
<rect x="2257.0" y="1351.0" width="27.8" height="12.0" fill="#231f20"/>
<rect x="2284.8" y="1351.0" width="65.6" height="11.5" fill="#fff"/>
<rect x="2284.8" y="1350.7" width="65.6" height="1.1" fill="#999"/>
<rect x="2284.8" y="1359.8" width="65.6" height="1.1" fill="#999"/>
<rect x="2284.8" y="1361.7" width="65.6" height="1.1" fill="#999"/>
<rect x="2350.4" y="1351.0" width="27.7" height="12.0" fill="#231f20"/>
<rect x="2372.0" y="1351.0" width="6.1" height="13.5" fill="#231f20"/>
<rect x="2378.1" y="1351.0" width="50.4" height="11.5" fill="#fff"/>
<rect x="2378.1" y="1350.7" width="50.4" height="1.1" fill="#999"/>
<rect x="2378.1" y="1359.8" width="50.4" height="1.1" fill="#999"/>
<rect x="2378.1" y="1361.7" width="50.4" height="1.1" fill="#999"/>
<rect x="2428.5" y="1351.0" width="20.2" height="12.5" fill="#231f20"/>
<rect x="2429.8" y="1343.4" width="8.8" height="7.6" fill="#231f20"/>
<rect x="2450.5" y="1348.0" width="1.5" height="4.0" fill="#231f20"/>
<text x="2310.0" y="1316.1" font-size="15.3" text-anchor="middle">1200</text>
<polyline points="2074.4,1406.0 2074.4,1351.0 2186.5,1351.0" fill="none" stroke="#555" stroke-width="1.0"/>
<line x1="2080.5" y1="1356.5" x2="2080.5" y2="1624.0" stroke="#555" stroke-width="0.9"/>
<polyline points="2087.0,1624.0 2087.0,1362.3 2186.5,1362.3" fill="none" stroke="#555" stroke-width="1.0"/>
<polyline points="2080.5,1400.0 2080.5,1356.5 2186.5,1356.5" fill="none" stroke="#888" stroke-width="0.8"/>
<line x1="2080.5" y1="1410.0" x2="2099.0" y2="1410.0" stroke="#444" stroke-width="1.8"/>
<line x1="2080.5" y1="1410.0" x2="2099.0" y2="1410.0" stroke="#fff" stroke-width="0.6"/>
<path d="M2099.0,1410.0 A18.5,18.5 0 0 1 2080.5,1428.5" fill="none" stroke="#333" stroke-width="0.9"/>
<line x1="2080.5" y1="1447.3" x2="2099.0" y2="1447.3" stroke="#444" stroke-width="1.8"/>
<line x1="2080.5" y1="1447.3" x2="2099.0" y2="1447.3" stroke="#fff" stroke-width="0.6"/>
<path d="M2099.0,1447.3 A18.5,18.5 0 0 0 2080.5,1428.8" fill="none" stroke="#333" stroke-width="0.9"/>
<line x1="2080.5" y1="1493.4" x2="2099.0" y2="1493.4" stroke="#444" stroke-width="1.8"/>
<line x1="2080.5" y1="1493.4" x2="2099.0" y2="1493.4" stroke="#fff" stroke-width="0.6"/>
<path d="M2099.0,1493.4 A18.5,18.5 0 0 1 2080.5,1511.9" fill="none" stroke="#333" stroke-width="0.9"/>
<line x1="2080.5" y1="1530.7" x2="2099.0" y2="1530.7" stroke="#444" stroke-width="1.8"/>
<line x1="2080.5" y1="1530.7" x2="2099.0" y2="1530.7" stroke="#fff" stroke-width="0.6"/>
<path d="M2099.0,1530.7 A18.5,18.5 0 0 0 2080.5,1512.2" fill="none" stroke="#333" stroke-width="0.9"/>
<line x1="2080.5" y1="1576.5" x2="2099.0" y2="1576.5" stroke="#444" stroke-width="1.8"/>
<line x1="2080.5" y1="1576.5" x2="2099.0" y2="1576.5" stroke="#fff" stroke-width="0.6"/>
<path d="M2099.0,1576.5 A18.5,18.5 0 0 1 2080.5,1595.0" fill="none" stroke="#333" stroke-width="0.9"/>
<line x1="2080.5" y1="1613.8" x2="2099.0" y2="1613.8" stroke="#444" stroke-width="1.8"/>
<line x1="2080.5" y1="1613.8" x2="2099.0" y2="1613.8" stroke="#fff" stroke-width="0.6"/>
<path d="M2099.0,1613.8 A18.5,18.5 0 0 0 2080.5,1595.3" fill="none" stroke="#333" stroke-width="0.9"/>
<rect x="2074.4" y="1448" width="11" height="41.59999999999991" fill="#fff" stroke="#777" stroke-width="0.9"/>
<line x1="2080.0" y1="1451.0" x2="2080.0" y2="1486.6" stroke="#777" stroke-width="0.8"/>
<rect x="2074.4" y="1531" width="11" height="41.700000000000045" fill="#fff" stroke="#777" stroke-width="0.9"/>
<line x1="2080.0" y1="1534.0" x2="2080.0" y2="1569.7" stroke="#777" stroke-width="0.8"/>
<rect x="2074.4" y="1362" width="11" height="45" fill="none" stroke="#777" stroke-width="0.9"/>
<circle cx="2198.4" cy="1387.0" r="11.6" fill="#231f20"/>
<circle cx="2198.4" cy="1470.6" r="11.6" fill="#231f20"/>
<circle cx="2198.4" cy="1554.3" r="11.6" fill="#231f20"/>
<circle cx="2060.5" cy="1470.6" r="6.5" fill="#231f20"/>
<rect x="1640.0" y="710.6" width="51.8" height="2.4" fill="#231f20"/>
<line x1="1710.6" y1="710.6" x2="1710.6" y2="729.6" stroke="#444" stroke-width="1.8"/>
<line x1="1710.6" y1="710.6" x2="1710.6" y2="729.6" stroke="#fff" stroke-width="0.6"/>
<path d="M1710.6,729.6 A19.0,19.0 0 0 1 1691.6,710.6" fill="none" stroke="#333" stroke-width="0.9"/>
<rect x="1713.0" y="710.6" width="7.0" height="63.4" fill="#231f20"/>
<rect x="1791.8" y="710.6" width="12.9" height="31.8" fill="#231f20"/>
<rect x="1798.0" y="742.0" width="6.7" height="32.0" fill="#231f20"/>
<polyline points="1835.3,767.0 1921.2,1263.0 1873.0,1271.0" fill="none" stroke="#444" stroke-width="0.9"/>
<polyline points="1833.0,774.3 1916.7,1259.0 1875.0,1266.0" fill="none" stroke="#444" stroke-width="0.9"/>
<line x1="1720.0" y1="767.3" x2="1835.3" y2="767.3" stroke="#444" stroke-width="0.9"/>
<polyline points="1873.0,1271.0 1862.0,1208.0" fill="none" stroke="#444" stroke-width="0.9"/>
<polygon points="1865.9,716.5 1910.6,716.5 1910.6,735.3 1960.0,735.3 1960.0,716.5 1976.5,716.5 1976.5,731.8 2014.0,731.8 2014.0,716.5 2025.9,716.5 2025.9,725.9 2060.0,725.9 2060.0,741.2 1873.0,741.2 1873.0,744.7" fill="#231f20"/>
<circle cx="2033" cy="720.5" r="4" fill="none" stroke="#444" stroke-width="0.9"/>
<circle cx="2043.5" cy="720.5" r="4" fill="none" stroke="#444" stroke-width="0.9"/>
<rect x="2055.2" y="726.0" width="4.7" height="426.0" fill="#231f20"/>
<polyline points="1873.0,744.7 1944.7,1145.3" fill="none" stroke="#444" stroke-width="0.9"/>
<polyline points="1876.5,744.7 1948.0,1145.3" fill="none" stroke="#444" stroke-width="0.9"/>
<line x1="1874.8" y1="745.0" x2="1946.4" y2="1145.0" stroke="#aaa" stroke-width="0.6"/>
<polygon points="1893.0,868.0 1905.0,865.5 1907.0,883.0 1896.0,885.0" fill="#231f20"/>
<polygon points="1917.6,1005.7 1929.0,1003.5 1930.5,1016.0 1919.0,1018.0" fill="#231f20"/>
<polygon points="1906.0,943.5 1911.5,942.5 1913.5,958.8 1908.5,959.5" fill="#231f20"/>
<rect x="1908.0" y="943.9" width="147.3" height="4.7" fill="#231f20"/>
<line x1="1908.0" y1="941.0" x2="1927.0" y2="937.5" stroke="#444" stroke-width="1.8"/>
<line x1="1908.0" y1="941.0" x2="1927.0" y2="937.5" stroke="#fff" stroke-width="0.6"/>
<path d="M1927.0,937.5 A19.3,19.3 0 0 0 1905.8,922.0" fill="none" stroke="#333" stroke-width="0.9"/>
<line x1="1910.6" y1="959.5" x2="1930.6" y2="956.5" stroke="#444" stroke-width="1.8"/>
<line x1="1910.6" y1="959.5" x2="1930.6" y2="956.5" stroke="#fff" stroke-width="0.6"/>
<path d="M1930.6,956.5 A20.2,20.2 0 0 1 1913.0,978.6" fill="none" stroke="#333" stroke-width="0.9"/>
<text x="1990.0" y="842.3" font-size="15.3" text-anchor="middle">1104</text>
<text x="1990.0" y="1034.9" font-size="15.3" text-anchor="middle">1103</text>
<rect x="2057.6" y="716.5" width="76.4" height="3.5" fill="#231f20"/>
<rect x="2131.8" y="716.5" width="2.4" height="32.9" fill="#231f20"/>
<rect x="2060.0" y="772.2" width="74.0" height="3.1" fill="#231f20"/>
<path d="M2134,749 A23.5,23.5 0 0 1 2134,796" fill="none" stroke="#333" stroke-width="0.9"/>
<line x1="2134.0" y1="772.5" x2="2140.0" y2="756.0" stroke="#444" stroke-width="1.6"/>
<line x1="2134.0" y1="772.5" x2="2140.0" y2="789.0" stroke="#444" stroke-width="1.6"/>
<rect x="2131.8" y="796.0" width="2.4" height="20.5" fill="#231f20"/>
<rect x="2111.8" y="815.2" width="22.2" height="3.5" fill="#231f20"/>
<rect x="2111.8" y="816.5" width="3.5" height="25.9" fill="#231f20"/>
<path d="M2134,801 A19,19 0 0 1 2134,839" fill="none" stroke="#333" stroke-width="0.9"/>
<line x1="2134.0" y1="839.0" x2="2138.0" y2="821.0" stroke="#444" stroke-width="1.6"/>
<rect x="2057.6" y="842.4" width="65.9" height="9.4" fill="#231f20"/>
<rect x="2055.3" y="842.4" width="10.7" height="197.6" fill="#231f20"/>
<rect x="2055.3" y="1040.0" width="6.1" height="112.4" fill="#231f20"/>
<rect x="2115.3" y="842.4" width="3.7" height="192.6" fill="#231f20"/>
<rect x="2119.0" y="842.4" width="4.5" height="25.6" fill="#231f20"/>
<rect x="2119.0" y="896.5" width="4.5" height="31.5" fill="#231f20"/>
<rect x="2119.0" y="955.0" width="4.5" height="31.0" fill="#231f20"/>
<rect x="2119.0" y="1013.5" width="4.5" height="21.5" fill="#231f20"/>
<line x1="2121.0" y1="868.0" x2="2121.0" y2="896.5" stroke="#999" stroke-width="1.2"/>
<line x1="2121.0" y1="928.0" x2="2121.0" y2="955.0" stroke="#999" stroke-width="1.2"/>
<line x1="2121.0" y1="986.0" x2="2121.0" y2="1013.5" stroke="#999" stroke-width="1.2"/>
<rect x="2066.0" y="908.1" width="49.3" height="4.7" fill="#231f20"/>
<rect x="2066.0" y="970.5" width="49.3" height="3.5" fill="#231f20"/>
<line x1="2068" y1="852.8" x2="2113.5" y2="907" stroke="#555" stroke-width="0.7" stroke-dasharray="4 3"/>
<line x1="2113.5" y1="852.8" x2="2068" y2="907" stroke="#555" stroke-width="0.7" stroke-dasharray="4 3"/>
<line x1="2068" y1="914" x2="2113.5" y2="969.6" stroke="#555" stroke-width="0.7" stroke-dasharray="4 3"/>
<line x1="2113.5" y1="914" x2="2068" y2="969.6" stroke="#555" stroke-width="0.7" stroke-dasharray="4 3"/>
<line x1="2068" y1="975" x2="2113.5" y2="1032" stroke="#555" stroke-width="0.7" stroke-dasharray="4 3"/>
<line x1="2113.5" y1="975" x2="2068" y2="1032" stroke="#555" stroke-width="0.7" stroke-dasharray="4 3"/>
<text x="2091.8" y="885.5" font-size="15.3" text-anchor="middle">ELEV</text>
<text x="2091.8" y="945.0" font-size="15.3" text-anchor="middle">ELEV</text>
<text x="2091.8" y="1004.8" font-size="15.3" text-anchor="middle">ELEV</text>
<rect x="2115.3" y="1033.0" width="18.7" height="6.4" fill="#231f20"/>
<rect x="2130.6" y="1033.0" width="3.4" height="119.4" fill="#231f20"/>
<rect x="2066.0" y="1138.2" width="68.0" height="14.2" fill="#231f20"/>
<line x1="2062" y1="1041.4" x2="2130" y2="1136.2" stroke="#555" stroke-width="0.7" stroke-dasharray="4 3"/>
<line x1="2130" y1="1041.4" x2="2062" y2="1136.2" stroke="#555" stroke-width="0.7" stroke-dasharray="4 3"/>
<rect x="1943.5" y="1147.9" width="116.5" height="4.7" fill="#231f20"/>
<line x1="1946.0" y1="1146.5" x2="2055.0" y2="1146.5" stroke="#999" stroke-width="1.2"/>
<polygon points="1942.4,1146.5 1949.0,1146.5 1956.5,1168.0 1946.0,1170.5" fill="#231f20"/>
<polyline points="1946.0,1170.0 1962.4,1248.8" fill="none" stroke="#444" stroke-width="0.9"/>
<polyline points="1949.5,1170.0 1965.9,1248.8" fill="none" stroke="#444" stroke-width="0.9"/>
<polygon points="1960.0,1250.0 1972.0,1248.0 1974.0,1270.0 1963.0,1272.0" fill="#231f20"/>
<rect x="2036.5" y="1152.4" width="3.5" height="104.6" fill="#231f20"/>
<rect x="2130.6" y="1152.4" width="3.5" height="88.2" fill="#231f20"/>
<polyline points="1974.0,1267.6 2012.8,1260.6" fill="none" stroke="#666" stroke-width="1.6"/>
<line x1="2030.6" y1="1257.0" x2="2028.0" y2="1239.0" stroke="#444" stroke-width="1.8"/>
<line x1="2030.6" y1="1257.0" x2="2028.0" y2="1239.0" stroke="#fff" stroke-width="0.6"/>
<path d="M2028.0,1239.0 A18.2,18.2 0 0 0 2012.8,1260.0" fill="none" stroke="#333" stroke-width="0.9"/>
<polygon points="2032.0,1255.0 2053.0,1251.5 2053.5,1256.0 2032.5,1259.0" fill="#231f20"/>
<line x1="2050.6" y1="1256.0" x2="2051.0" y2="1235.5" stroke="#444" stroke-width="1.8"/>
<line x1="2050.6" y1="1256.0" x2="2051.0" y2="1235.5" stroke="#fff" stroke-width="0.6"/>
<path d="M2051.0,1235.5 A20.5,20.5 0 0 1 2071.5,1252.0" fill="none" stroke="#333" stroke-width="0.9"/>
<polyline points="2071.5,1251.5 2110.0,1242.5" fill="none" stroke="#666" stroke-width="1.6"/>
<polygon points="2110.0,1241.0 2134.0,1236.5 2134.0,1241.5 2111.0,1246.5" fill="#231f20"/>
<text x="2001.6" y="1200.9" font-size="15.3" text-anchor="middle">1102</text>
<text x="2086.4" y="1204.2" font-size="15.3" text-anchor="middle">1101</text>
<polyline points="1640.0,1052.4 1708.2,1039.4 1796.5,1284.0" fill="none" stroke="#444" stroke-width="0.9"/>
<polyline points="1640.0,1055.5 1706.0,1043.0 1793.5,1284.0" fill="none" stroke="#444" stroke-width="0.9"/>
<circle cx="1702.4" cy="1050.0" r="6.5" fill="#231f20"/>
<circle cx="1756.5" cy="1198.7" r="6.5" fill="#231f20"/>
<polyline points="1727.0,1086.5 1797.6,1284.0" fill="none" stroke="#333" stroke-width="1.8"/>
<polyline points="1835.3,1066.5 1871.8,1274.7" fill="none" stroke="#444" stroke-width="1.5"/>
<polyline points="1838.0,1066.0 1874.0,1273.0" fill="none" stroke="#444" stroke-width="0.8"/>
<line x1="1728.6" y1="1091.0" x2="1836.5" y2="1073.5" stroke="#555" stroke-width="0.8"/>
<line x1="1730.7" y1="1096.9" x2="1837.6" y2="1079.4" stroke="#555" stroke-width="0.8"/>
<line x1="1732.8" y1="1102.8" x2="1838.6" y2="1085.3" stroke="#555" stroke-width="0.8"/>
<line x1="1734.9" y1="1108.7" x2="1839.6" y2="1091.2" stroke="#555" stroke-width="0.8"/>
<line x1="1737.0" y1="1114.6" x2="1840.7" y2="1097.1" stroke="#555" stroke-width="0.8"/>
<line x1="1739.2" y1="1120.5" x2="1841.7" y2="1103.0" stroke="#555" stroke-width="0.8"/>
<line x1="1741.3" y1="1126.4" x2="1842.7" y2="1108.9" stroke="#555" stroke-width="0.8"/>
<line x1="1743.4" y1="1132.3" x2="1843.8" y2="1114.8" stroke="#555" stroke-width="0.8"/>
<line x1="1745.5" y1="1138.2" x2="1844.8" y2="1120.7" stroke="#555" stroke-width="0.8"/>
<line x1="1747.6" y1="1144.1" x2="1845.8" y2="1126.6" stroke="#555" stroke-width="0.8"/>
<line x1="1749.7" y1="1150.0" x2="1846.9" y2="1132.5" stroke="#555" stroke-width="0.8"/>
<line x1="1757.9" y1="1173.0" x2="1851.4" y2="1158.5" stroke="#555" stroke-width="0.8"/>
<line x1="1760.0" y1="1178.8" x2="1852.4" y2="1164.2" stroke="#555" stroke-width="0.8"/>
<line x1="1762.0" y1="1184.5" x2="1853.4" y2="1170.0" stroke="#555" stroke-width="0.8"/>
<line x1="1764.1" y1="1190.2" x2="1854.5" y2="1175.8" stroke="#555" stroke-width="0.8"/>
<line x1="1766.1" y1="1196.0" x2="1855.5" y2="1181.5" stroke="#555" stroke-width="0.8"/>
<line x1="1768.2" y1="1201.8" x2="1856.5" y2="1187.2" stroke="#555" stroke-width="0.8"/>
<line x1="1770.3" y1="1207.5" x2="1857.5" y2="1193.0" stroke="#555" stroke-width="0.8"/>
<line x1="1772.3" y1="1213.2" x2="1858.5" y2="1198.8" stroke="#555" stroke-width="0.8"/>
<line x1="1774.4" y1="1219.0" x2="1859.5" y2="1204.5" stroke="#555" stroke-width="0.8"/>
<line x1="1776.4" y1="1224.8" x2="1860.5" y2="1210.2" stroke="#555" stroke-width="0.8"/>
<line x1="1778.5" y1="1230.5" x2="1861.5" y2="1216.0" stroke="#555" stroke-width="0.8"/>
<line x1="1780.5" y1="1236.2" x2="1862.5" y2="1221.8" stroke="#555" stroke-width="0.8"/>
<line x1="1782.6" y1="1242.0" x2="1863.5" y2="1227.5" stroke="#555" stroke-width="0.8"/>
<line x1="1784.6" y1="1247.8" x2="1864.5" y2="1233.2" stroke="#555" stroke-width="0.8"/>
<line x1="1786.7" y1="1253.5" x2="1865.5" y2="1239.0" stroke="#555" stroke-width="0.8"/>
<line x1="1788.8" y1="1259.2" x2="1866.5" y2="1244.8" stroke="#555" stroke-width="0.8"/>
<line x1="1790.8" y1="1265.0" x2="1867.6" y2="1250.5" stroke="#555" stroke-width="0.8"/>
<line x1="1792.9" y1="1270.8" x2="1868.6" y2="1256.2" stroke="#555" stroke-width="0.8"/>
<line x1="1794.9" y1="1276.5" x2="1869.6" y2="1262.0" stroke="#555" stroke-width="0.8"/>
<line x1="1797.0" y1="1282.2" x2="1870.6" y2="1267.8" stroke="#555" stroke-width="0.8"/>
<text x="1666.5" y="1200.3" font-size="15.3" text-anchor="middle">1600</text>
<polygon points="1974.0,1328.8 2023.5,1319.8 2026.0,1335.0 2021.0,1336.0 2019.0,1325.5 1979.5,1333.5 1986.5,1374.5 2038.0,1374.5 2038.0,1362.0 2042.4,1362.0 2042.4,1377.3 1982.4,1377.3" fill="none" stroke="#444" stroke-width="0.9"/>
<polyline points="2019.0,1325.5 2021.0,1336.0 1992.7,1341.5 1996.0,1361.8 2038.0,1361.8" fill="none" stroke="#444" stroke-width="0.9"/>
<polygon points="1798.8,1344.0 1809.0,1342.5 1811.5,1359.5 1801.0,1360.5" fill="#231f20"/>
<line x1="1273.2" y1="668.4" x2="1273.2" y2="1085.0" stroke="#444" stroke-width="1.0"/>
<line x1="1278.2" y1="668.4" x2="1278.2" y2="1085.0" stroke="#444" stroke-width="1.0"/>
<line x1="1273.2" y1="690.0" x2="1278.2" y2="690.0" stroke="#777" stroke-width="0.8"/>
<line x1="1273.2" y1="715.0" x2="1278.2" y2="715.0" stroke="#777" stroke-width="0.8"/>
<line x1="1273.2" y1="740.0" x2="1278.2" y2="740.0" stroke="#777" stroke-width="0.8"/>
<line x1="1273.2" y1="765.0" x2="1278.2" y2="765.0" stroke="#777" stroke-width="0.8"/>
<line x1="1273.2" y1="790.0" x2="1278.2" y2="790.0" stroke="#777" stroke-width="0.8"/>
<line x1="1273.2" y1="815.0" x2="1278.2" y2="815.0" stroke="#777" stroke-width="0.8"/>
<line x1="1273.2" y1="840.0" x2="1278.2" y2="840.0" stroke="#777" stroke-width="0.8"/>
<line x1="1273.2" y1="865.0" x2="1278.2" y2="865.0" stroke="#777" stroke-width="0.8"/>
<line x1="1273.2" y1="890.0" x2="1278.2" y2="890.0" stroke="#777" stroke-width="0.8"/>
<line x1="1273.2" y1="915.0" x2="1278.2" y2="915.0" stroke="#777" stroke-width="0.8"/>
<line x1="1273.2" y1="940.0" x2="1278.2" y2="940.0" stroke="#777" stroke-width="0.8"/>
<line x1="1273.2" y1="965.0" x2="1278.2" y2="965.0" stroke="#777" stroke-width="0.8"/>
<line x1="1273.2" y1="990.0" x2="1278.2" y2="990.0" stroke="#777" stroke-width="0.8"/>
<line x1="1273.2" y1="1015.0" x2="1278.2" y2="1015.0" stroke="#777" stroke-width="0.8"/>
<line x1="1273.2" y1="1040.0" x2="1278.2" y2="1040.0" stroke="#777" stroke-width="0.8"/>
<line x1="1273.2" y1="1065.0" x2="1278.2" y2="1065.0" stroke="#777" stroke-width="0.8"/>
<path d="M1281,715 L1270.7,715 A14,14 0 0 0 1270.7,743 L1281,743 Z" fill="#231f20"/>
<path d="M1281,815.4 L1270.7,815.4 A14,14 0 0 0 1270.7,843.4 L1281,843.4 Z" fill="#231f20"/>
<path d="M1281,915.5 L1270.7,915.5 A14,14 0 0 0 1270.7,943.5 L1281,943.5 Z" fill="#231f20"/>
<path d="M1281,1015.3 L1270.7,1015.3 A14,14 0 0 0 1270.7,1043.3 L1281,1043.3 Z" fill="#231f20"/>
<rect x="1341.2" y="710.4" width="10.5" height="32.6" fill="#231f20"/>
<rect x="1345.4" y="743.0" width="6.3" height="30.4" fill="#231f20"/>
<rect x="1341.2" y="710.4" width="39.5" height="2.6" fill="#231f20"/>
<line x1="1380.7" y1="711.7" x2="1432.0" y2="711.7" stroke="#333" stroke-width="1.8"/>
<line x1="1450.0" y1="710.4" x2="1450.0" y2="729.4" stroke="#444" stroke-width="1.8"/>
<line x1="1450.0" y1="710.4" x2="1450.0" y2="729.4" stroke="#fff" stroke-width="0.6"/>
<path d="M1450.0,729.4 A19.0,19.0 0 0 1 1431.0,710.4" fill="none" stroke="#333" stroke-width="0.9"/>
<rect x="1453.8" y="710.4" width="13.0" height="32.6" fill="#231f20"/>
<rect x="1460.5" y="743.0" width="6.3" height="30.4" fill="#231f20"/>
<rect x="1452.0" y="710.4" width="19.0" height="2.6" fill="#231f20"/>
<line x1="1471.0" y1="711.7" x2="1522.5" y2="711.7" stroke="#333" stroke-width="1.8"/>
<line x1="1541.4" y1="710.4" x2="1541.4" y2="729.4" stroke="#444" stroke-width="1.8"/>
<line x1="1541.4" y1="710.4" x2="1541.4" y2="729.4" stroke="#fff" stroke-width="0.6"/>
<path d="M1541.4,729.4 A19.0,19.0 0 0 1 1522.4,710.4" fill="none" stroke="#333" stroke-width="0.9"/>
<rect x="1543.5" y="710.4" width="7.8" height="63.0" fill="#231f20"/>
<rect x="1623.3" y="710.4" width="12.7" height="32.6" fill="#231f20"/>
<rect x="1629.6" y="743.0" width="6.4" height="30.4" fill="#231f20"/>
<line x1="1636.0" y1="711.7" x2="1691.8" y2="711.7" stroke="#333" stroke-width="1.8"/>
<rect x="1351.7" y="762.0" width="191.8" height="3.0" fill="#231f20"/>
<rect x="1636.0" y="762.0" width="77.0" height="3.0" fill="#231f20"/>
<line x1="1351.7" y1="766.7" x2="1460.5" y2="766.7" stroke="#777" stroke-width="0.8"/>
<line x1="1466.8" y1="766.7" x2="1543.5" y2="766.7" stroke="#777" stroke-width="0.8"/>
<line x1="1636.0" y1="766.7" x2="1713.0" y2="766.7" stroke="#777" stroke-width="0.8"/>
<line x1="1720.0" y1="766.7" x2="1798.0" y2="766.7" stroke="#777" stroke-width="0.8"/>
<line x1="1551.3" y1="767.0" x2="1629.6" y2="767.0" stroke="#777" stroke-width="0.9"/>
<line x1="1551.3" y1="769.5" x2="1629.6" y2="769.5" stroke="#777" stroke-width="0.9"/>
<line x1="1720.0" y1="769.5" x2="1798.0" y2="769.5" stroke="#777" stroke-width="0.9"/>
<line x1="1345.0" y1="774.3" x2="1833.0" y2="774.3" stroke="#444" stroke-width="0.9"/>
<line x1="1345.0" y1="772.0" x2="1720.0" y2="772.0" stroke="#999" stroke-width="0.6"/>
<text x="1407.0" y="744.1" font-size="15.3" text-anchor="middle">1111</text>
<text x="1504.0" y="744.1" font-size="15.3" text-anchor="middle">1109</text>
<text x="1593.3" y="743.7" font-size="15.3" text-anchor="middle">1107</text>
<text x="1678.0" y="742.5" font-size="15.3" text-anchor="middle">1106</text>
<text x="1762.4" y="742.7" font-size="15.3" text-anchor="middle">1105</text>
<polyline points="1345.0,774.5 1345.0,953.0 1391.2,953.0 1413.0,1091.0 1640.0,1049.5" fill="none" stroke="#444" stroke-width="0.9"/>
<polyline points="1348.7,774.5 1348.7,950.0 1388.5,950.0 1410.0,1087.5 1640.0,1046.0" fill="none" stroke="#444" stroke-width="0.9"/>
<text x="1606.5" y="918.7" font-size="15" text-anchor="middle" textLength="126" lengthAdjust="spacingAndGlyphs">OPEN TO BELOW</text>
<circle cx="1347.0" cy="1112.0" r="6.5" fill="#231f20"/>
<circle cx="1524.5" cy="1081.0" r="6.5" fill="#231f20"/>
<rect x="1055.0" y="1084.8" width="238.3" height="12.6" fill="#231f20"/>
<line x1="1293.0" y1="1086.0" x2="1299.6" y2="1086.0" stroke="#333" stroke-width="1.5"/>
<rect x="1094.2" y="1084.8" width="20.2" height="12.6" fill="#fff"/>
<rect x="1094.2" y="1084.5" width="20.2" height="1.1" fill="#999"/>
<rect x="1094.2" y="1086.4" width="20.2" height="1.1" fill="#999"/>
<rect x="1094.2" y="1096.6" width="20.2" height="1.1" fill="#999"/>
<line x1="1094.2" y1="1100.0" x2="1114.4" y2="1100.0" stroke="#999" stroke-width="1.2"/>
<rect x="1156.0" y="1084.8" width="21.4" height="12.6" fill="#fff"/>
<rect x="1156.0" y="1084.5" width="21.4" height="1.1" fill="#999"/>
<rect x="1156.0" y="1086.4" width="21.4" height="1.1" fill="#999"/>
<rect x="1156.0" y="1096.6" width="21.4" height="1.1" fill="#999"/>
<line x1="1156.0" y1="1100.0" x2="1177.4" y2="1100.0" stroke="#999" stroke-width="1.2"/>
<rect x="1181.0" y="1084.8" width="20.3" height="12.6" fill="#fff"/>
<rect x="1181.0" y="1084.5" width="20.3" height="1.1" fill="#999"/>
<rect x="1181.0" y="1086.4" width="20.3" height="1.1" fill="#999"/>
<rect x="1181.0" y="1096.6" width="20.3" height="1.1" fill="#999"/>
<line x1="1181.0" y1="1100.0" x2="1201.3" y2="1100.0" stroke="#999" stroke-width="1.2"/>
<rect x="1055.0" y="1084.8" width="11.5" height="515.2" fill="#231f20"/>
<rect x="1055.0" y="1169.0" width="11.5" height="20.4" fill="#fff"/>
<rect x="1054.7" y="1169.0" width="1.1" height="20.4" fill="#999"/>
<rect x="1056.6" y="1169.0" width="1.1" height="20.4" fill="#999"/>
<rect x="1065.7" y="1169.0" width="1.1" height="20.4" fill="#999"/>
<rect x="1055.0" y="1256.0" width="11.5" height="20.4" fill="#fff"/>
<rect x="1054.7" y="1256.0" width="1.1" height="20.4" fill="#999"/>
<rect x="1056.6" y="1256.0" width="1.1" height="20.4" fill="#999"/>
<rect x="1065.7" y="1256.0" width="1.1" height="20.4" fill="#999"/>
<rect x="1055.0" y="1313.0" width="11.5" height="20.0" fill="#fff"/>
<rect x="1054.7" y="1313.0" width="1.1" height="20.0" fill="#999"/>
<rect x="1056.6" y="1313.0" width="1.1" height="20.0" fill="#999"/>
<rect x="1065.7" y="1313.0" width="1.1" height="20.0" fill="#999"/>
<polyline points="1073.4,1204.5 1073.4,1103.0 1269.0,1103.0" fill="none" stroke="#231f20" stroke-width="2.8"/>
<rect x="1269.4" y="1097.4" width="23.9" height="10.1" fill="#231f20"/>
<rect x="1269.4" y="1147.8" width="23.9" height="21.4" fill="#231f20"/>
<rect x="1270.6" y="1169.0" width="3.8" height="37.0" fill="#231f20"/>
<line x1="1292.0" y1="1107.5" x2="1292.0" y2="1147.8" stroke="#999" stroke-width="1"/>
<line x1="1290.0" y1="1109.0" x2="1290.0" y2="1127.5" stroke="#444" stroke-width="1.8"/>
<line x1="1290.0" y1="1109.0" x2="1290.0" y2="1127.5" stroke="#fff" stroke-width="0.6"/>
<path d="M1290.0,1127.5 A18.5,18.5 0 0 1 1271.5,1109.0" fill="none" stroke="#333" stroke-width="0.9"/>
<line x1="1290.0" y1="1147.0" x2="1290.0" y2="1128.5" stroke="#444" stroke-width="1.8"/>
<line x1="1290.0" y1="1147.0" x2="1290.0" y2="1128.5" stroke="#fff" stroke-width="0.6"/>
<path d="M1290.0,1128.5 A18.5,18.5 0 0 0 1271.5,1147.0" fill="none" stroke="#333" stroke-width="0.9"/>
<line x1="1128.0" y1="1105.0" x2="1128.0" y2="1151.6" stroke="#888" stroke-width="0.7"/>
<line x1="1128.0" y1="1158.0" x2="1128.0" y2="1204.5" stroke="#888" stroke-width="0.7"/>
<line x1="1133.5" y1="1105.0" x2="1133.5" y2="1151.6" stroke="#888" stroke-width="0.7"/>
<line x1="1133.5" y1="1158.0" x2="1133.5" y2="1204.5" stroke="#888" stroke-width="0.7"/>
<line x1="1139.0" y1="1105.0" x2="1139.0" y2="1151.6" stroke="#888" stroke-width="0.7"/>
<line x1="1139.0" y1="1158.0" x2="1139.0" y2="1204.5" stroke="#888" stroke-width="0.7"/>
<line x1="1144.5" y1="1105.0" x2="1144.5" y2="1151.6" stroke="#888" stroke-width="0.7"/>
<line x1="1144.5" y1="1158.0" x2="1144.5" y2="1204.5" stroke="#888" stroke-width="0.7"/>
<line x1="1150.0" y1="1105.0" x2="1150.0" y2="1151.6" stroke="#888" stroke-width="0.7"/>
<line x1="1150.0" y1="1158.0" x2="1150.0" y2="1204.5" stroke="#888" stroke-width="0.7"/>
<line x1="1155.5" y1="1105.0" x2="1155.5" y2="1151.6" stroke="#888" stroke-width="0.7"/>
<line x1="1155.5" y1="1158.0" x2="1155.5" y2="1204.5" stroke="#888" stroke-width="0.7"/>
<line x1="1161.0" y1="1105.0" x2="1161.0" y2="1151.6" stroke="#888" stroke-width="0.7"/>
<line x1="1161.0" y1="1158.0" x2="1161.0" y2="1204.5" stroke="#888" stroke-width="0.7"/>
<line x1="1166.5" y1="1105.0" x2="1166.5" y2="1151.6" stroke="#888" stroke-width="0.7"/>
<line x1="1166.5" y1="1158.0" x2="1166.5" y2="1204.5" stroke="#888" stroke-width="0.7"/>
<line x1="1172.0" y1="1105.0" x2="1172.0" y2="1151.6" stroke="#888" stroke-width="0.7"/>
<line x1="1172.0" y1="1158.0" x2="1172.0" y2="1204.5" stroke="#888" stroke-width="0.7"/>
<line x1="1177.5" y1="1105.0" x2="1177.5" y2="1151.6" stroke="#888" stroke-width="0.7"/>
<line x1="1177.5" y1="1158.0" x2="1177.5" y2="1204.5" stroke="#888" stroke-width="0.7"/>
<line x1="1183.0" y1="1105.0" x2="1183.0" y2="1151.6" stroke="#888" stroke-width="0.7"/>
<line x1="1183.0" y1="1158.0" x2="1183.0" y2="1204.5" stroke="#888" stroke-width="0.7"/>
<line x1="1188.5" y1="1105.0" x2="1188.5" y2="1151.6" stroke="#888" stroke-width="0.7"/>
<line x1="1188.5" y1="1158.0" x2="1188.5" y2="1204.5" stroke="#888" stroke-width="0.7"/>
<line x1="1194.0" y1="1105.0" x2="1194.0" y2="1151.6" stroke="#888" stroke-width="0.7"/>
<line x1="1194.0" y1="1158.0" x2="1194.0" y2="1204.5" stroke="#888" stroke-width="0.7"/>
<line x1="1199.5" y1="1105.0" x2="1199.5" y2="1151.6" stroke="#888" stroke-width="0.7"/>
<line x1="1199.5" y1="1158.0" x2="1199.5" y2="1204.5" stroke="#888" stroke-width="0.7"/>
<line x1="1205.0" y1="1105.0" x2="1205.0" y2="1151.6" stroke="#888" stroke-width="0.7"/>
<line x1="1205.0" y1="1158.0" x2="1205.0" y2="1204.5" stroke="#888" stroke-width="0.7"/>
<line x1="1210.5" y1="1105.0" x2="1210.5" y2="1151.6" stroke="#888" stroke-width="0.7"/>
<line x1="1210.5" y1="1158.0" x2="1210.5" y2="1204.5" stroke="#888" stroke-width="0.7"/>
<line x1="1216.0" y1="1105.0" x2="1216.0" y2="1151.6" stroke="#888" stroke-width="0.7"/>
<line x1="1221.5" y1="1105.0" x2="1221.5" y2="1151.6" stroke="#888" stroke-width="0.7"/>
<line x1="1227.0" y1="1105.0" x2="1227.0" y2="1151.6" stroke="#888" stroke-width="0.7"/>
<rect x="1120.0" y="1151.6" width="105.0" height="6.2" fill="#fff"/>
<rect x="1120" y="1151.6" width="105" height="6" fill="none" stroke="#444" stroke-width="1.2"/>
<line x1="1121.0" y1="1105.0" x2="1232.0" y2="1105.0" stroke="#777" stroke-width="0.8"/>
<line x1="1121.0" y1="1128.0" x2="1225.0" y2="1128.0" stroke="#777" stroke-width="0.8"/>
<line x1="1121.0" y1="1180.5" x2="1213.0" y2="1180.5" stroke="#777" stroke-width="0.8"/>
<polyline points="1131.0,1160.0 1142.0,1178.0 1136.0,1180.0 1150.0,1204.0" fill="none" stroke="#555" stroke-width="0.8"/>
<text x="1241.7" y="1179.8" font-size="15.3" text-anchor="middle">S0106</text>
<rect x="1055.0" y="1205.8" width="238.3" height="12.6" fill="#231f20"/>
<rect x="1282.0" y="1205.8" width="11.3" height="150.2" fill="#231f20"/>
<line x1="1067.0" y1="1220.0" x2="1282.0" y2="1220.0" stroke="#999" stroke-width="1.3"/>
<text x="1176.6" y="1300.8" font-size="15.3" text-anchor="middle">1701</text>
<rect x="1341.2" y="1153.6" width="11.4" height="171.9" fill="#231f20"/>
<rect x="1347.5" y="1325.0" width="5.1" height="55.0" fill="#231f20"/>
<polyline points="1352.6,1161.7 1583.2,1121.3" fill="none" stroke="#666" stroke-width="1.6"/>
<line x1="1352.6" y1="1161.7" x2="1583.2" y2="1121.3" stroke="#fff" stroke-width="0.6"/>
<polygon points="1526.0,1131.8 1531.5,1131.0 1571.0,1335.5 1565.5,1336.5" fill="#231f20"/>
<polygon points="1546.7,1208.3 1553.0,1207.5 1560.6,1256.2 1554.0,1257.0" fill="#231f20"/>
<line x1="1533.5" y1="1133.0" x2="1547.5" y2="1203.0" stroke="#999" stroke-width="1.2"/>
<polygon points="1545.4,1202.5 1598.4,1195.5 1599.0,1199.5 1546.0,1206.5" fill="#231f20"/>
<line x1="1597.0" y1="1176.0" x2="1599.0" y2="1196.0" stroke="#666" stroke-width="3.4"/>
<line x1="1597.0" y1="1176.0" x2="1599.0" y2="1196.0" stroke="#fff" stroke-width="1.8"/>
<polygon points="1555.0,1259.5 1607.0,1251.0 1607.5,1255.0 1555.5,1263.5" fill="#231f20"/>
<line x1="1607.5" y1="1253.0" x2="1610.5" y2="1275.0" stroke="#666" stroke-width="3.4"/>
<line x1="1607.5" y1="1253.0" x2="1610.5" y2="1275.0" stroke="#fff" stroke-width="1.8"/>
<polygon points="1614.0,1299.5 1617.5,1298.5 1622.5,1331.5 1619.0,1332.5" fill="#231f20"/>
<polygon points="1549.0,1341.0 1621.0,1329.0 1622.0,1333.0 1550.0,1345.0" fill="#231f20"/>
<text x="1568.0" y="1164.7" font-size="15.3" text-anchor="middle">1604</text>
<text x="1584.0" y="1232.0" font-size="15.3" text-anchor="middle">1603</text>
<text x="1457.7" y="1244.6" font-size="15.3" text-anchor="middle">1607</text>
<text x="1590.8" y="1295.3" font-size="15.3" text-anchor="middle">1602</text>
<rect x="1056.6" y="1370.0" width="9.9" height="19.6" fill="#fff"/>
<rect x="1056.3" y="1370.0" width="1.1" height="19.6" fill="#999"/>
<rect x="1058.2" y="1370.0" width="1.1" height="19.6" fill="#999"/>
<rect x="1065.7" y="1370.0" width="1.1" height="19.6" fill="#999"/>
<rect x="1056.6" y="1424.0" width="9.9" height="22.5" fill="#fff"/>
<rect x="1056.3" y="1424.0" width="1.1" height="22.5" fill="#999"/>
<rect x="1058.2" y="1424.0" width="1.1" height="22.5" fill="#999"/>
<rect x="1065.7" y="1424.0" width="1.1" height="22.5" fill="#999"/>
<rect x="1056.6" y="1481.0" width="9.9" height="21.0" fill="#fff"/>
<rect x="1056.3" y="1481.0" width="1.1" height="21.0" fill="#999"/>
<rect x="1058.2" y="1481.0" width="1.1" height="21.0" fill="#999"/>
<rect x="1065.7" y="1481.0" width="1.1" height="21.0" fill="#999"/>
<rect x="1056.6" y="1538.0" width="9.9" height="20.8" fill="#fff"/>
<rect x="1056.3" y="1538.0" width="1.1" height="20.8" fill="#999"/>
<rect x="1058.2" y="1538.0" width="1.1" height="20.8" fill="#999"/>
<rect x="1065.7" y="1538.0" width="1.1" height="20.8" fill="#999"/>
<rect x="1056.6" y="1592.0" width="9.9" height="21.0" fill="#fff"/>
<rect x="1056.3" y="1592.0" width="1.1" height="21.0" fill="#999"/>
<rect x="1058.2" y="1592.0" width="1.1" height="21.0" fill="#999"/>
<rect x="1065.7" y="1592.0" width="1.1" height="21.0" fill="#999"/>
<rect x="1066.5" y="1342.5" width="8.2" height="12.5" fill="#231f20"/>
<rect x="1066.5" y="1513.0" width="8.2" height="11.0" fill="#231f20"/>
<rect x="1040.0" y="1625.3" width="27.6" height="15.7" fill="#231f20"/>
<rect x="1055.7" y="1600.0" width="11.4" height="31.8" fill="#231f20"/>
<rect x="1061.8" y="1631.8" width="12.5" height="12.7" fill="#231f20"/>
<rect x="1067.7" y="1396.8" width="206.6" height="5.5" fill="#231f20"/>
<rect x="1281.0" y="1330.0" width="11.4" height="26.0" fill="#231f20"/>
<rect x="1274.3" y="1351.0" width="18.1" height="5.0" fill="#231f20"/>
<line x1="1277.0" y1="1357.7" x2="1296.0" y2="1357.7" stroke="#444" stroke-width="1.8"/>
<line x1="1277.0" y1="1357.7" x2="1296.0" y2="1357.7" stroke="#fff" stroke-width="0.6"/>
<path d="M1296.0,1357.7 A19.0,19.0 0 0 1 1277.0,1376.7" fill="none" stroke="#333" stroke-width="0.9"/>
<rect x="1274.3" y="1377.0" width="4.2" height="36.0" fill="#231f20"/>
<line x1="1277.0" y1="1432.6" x2="1296.0" y2="1432.6" stroke="#444" stroke-width="1.8"/>
<line x1="1277.0" y1="1432.6" x2="1296.0" y2="1432.6" stroke="#fff" stroke-width="0.6"/>
<path d="M1296.0,1432.6 A19.0,19.0 0 0 0 1277.0,1413.6" fill="none" stroke="#333" stroke-width="0.9"/>
<rect x="1274.3" y="1434.0" width="18.1" height="5.5" fill="#231f20"/>
<rect x="1288.3" y="1435.4" width="5.2" height="150.3" fill="#231f20"/>
<rect x="1282.6" y="1513.0" width="9.8" height="11.0" fill="#231f20"/>
<rect x="1067.7" y="1579.8" width="226.0" height="5.5" fill="#231f20"/>
<line x1="1281.3" y1="1589.3" x2="1300.3" y2="1589.3" stroke="#444" stroke-width="1.8"/>
<line x1="1281.3" y1="1589.3" x2="1300.3" y2="1589.3" stroke="#fff" stroke-width="0.6"/>
<path d="M1300.3,1589.3 A19.0,19.0 0 0 1 1281.3,1608.3" fill="none" stroke="#333" stroke-width="0.9"/>
<line x1="1281.3" y1="1626.7" x2="1300.3" y2="1626.7" stroke="#444" stroke-width="1.8"/>
<line x1="1281.3" y1="1626.7" x2="1300.3" y2="1626.7" stroke="#fff" stroke-width="0.6"/>
<path d="M1300.3,1626.7 A19.0,19.0 0 0 0 1281.3,1607.7" fill="none" stroke="#333" stroke-width="0.9"/>
<text x="1175.3" y="1478.5" font-size="15.3" text-anchor="middle">1702</text>
<rect x="1348.4" y="1325.0" width="4.4" height="53.5" fill="#231f20"/>
<line x1="1350.6" y1="1366.0" x2="1331.6" y2="1366.0" stroke="#444" stroke-width="1.8"/>
<line x1="1350.6" y1="1366.0" x2="1331.6" y2="1366.0" stroke="#fff" stroke-width="0.6"/>
<path d="M1331.6,1366.0 A19.0,19.0 0 0 1 1350.6,1347.0" fill="none" stroke="#333" stroke-width="0.9"/>
<polygon points="1348.4,1376.0 1529.5,1343.0 1529.5,1347.0 1348.4,1380.5" fill="#231f20"/>
<polygon points="1550.0,1339.5 1621.0,1327.0 1621.0,1331.0 1550.0,1343.5" fill="#231f20"/>
<line x1="1550.0" y1="1341.5" x2="1548.0" y2="1362.5" stroke="#444" stroke-width="1.8"/>
<line x1="1550.0" y1="1341.5" x2="1548.0" y2="1362.5" stroke="#fff" stroke-width="0.6"/>
<path d="M1548.0,1362.5 A21.1,21.1 0 0 1 1529.5,1345.0" fill="none" stroke="#333" stroke-width="0.9"/>
<rect x="1341.7" y="1417.4" width="11.1" height="9.6" fill="#231f20"/>
<rect x="1341.8" y="1417.0" width="3.3" height="32.0" fill="#231f20"/>
<rect x="1341.8" y="1499.0" width="3.3" height="43.0" fill="#231f20"/>
<rect x="1341.8" y="1560.0" width="3.3" height="25.0" fill="#231f20"/>
<path d="M1343,1449 A20,25 0 0 0 1343,1499" fill="none" stroke="#333" stroke-width="0.9"/>
<line x1="1343.0" y1="1474.0" x2="1336.0" y2="1463.0" stroke="#444" stroke-width="1.5"/>
<line x1="1343.0" y1="1474.0" x2="1336.0" y2="1485.0" stroke="#444" stroke-width="1.5"/>
<line x1="1343.7" y1="1560.2" x2="1362.7" y2="1560.2" stroke="#444" stroke-width="1.8"/>
<line x1="1343.7" y1="1560.2" x2="1362.7" y2="1560.2" stroke="#fff" stroke-width="0.6"/>
<path d="M1362.7,1560.2 A19.0,19.0 0 0 0 1343.7,1541.2" fill="none" stroke="#333" stroke-width="0.9"/>
<rect x="1345.0" y="1424.3" width="102.6" height="4.0" fill="#231f20"/>
<polygon points="1446.3,1408.0 1463.0,1406.3 1463.0,1428.4 1446.3,1428.4" fill="#231f20"/>
<rect x="1406.0" y="1428.0" width="4.2" height="146.0" fill="#231f20"/>
<rect x="1345.0" y="1474.2" width="61.0" height="2.8" fill="#231f20"/>
<rect x="1345.0" y="1521.2" width="61.0" height="2.8" fill="#231f20"/>
<line x1="1411" y1="1428.4" x2="1457" y2="1574" stroke="#555" stroke-width="0.7" stroke-dasharray="4 3"/>
<line x1="1457" y1="1428.4" x2="1411" y2="1574" stroke="#555" stroke-width="0.7" stroke-dasharray="4 3"/>
<rect x="1395" y="1526" width="9" height="10" fill="none" stroke="#555" stroke-width="0.8"/>
<rect x="1457.4" y="1406.0" width="5.6" height="179.0" fill="#231f20"/>
<rect x="1341.7" y="1574.0" width="13.1" height="11.0" fill="#231f20"/>
<rect x="1385.3" y="1574.0" width="278.7" height="11.0" fill="#231f20"/>
<rect x="1659.8" y="1370.2" width="4.2" height="214.8" fill="#231f20"/>
<rect x="1463.0" y="1409.0" width="165.0" height="4.2" fill="#231f20"/>
<rect x="1578.0" y="1411.8" width="12.5" height="16.6" fill="#231f20"/>
<polygon points="1567.0,1388.0 1571.0,1387.0 1573.0,1399.5 1602.5,1394.0 1601.0,1381.5 1617.0,1379.0 1618.2,1383.0 1613.0,1384.0 1615.5,1405.8 1628.0,1405.8 1628.0,1411.0 1567.0,1411.0" fill="#231f20"/>
<circle cx="1618.5" cy="1390.5" r="3.3" fill="none" stroke="#444" stroke-width="0.8"/>
<circle cx="1620" cy="1399.5" r="3.3" fill="none" stroke="#444" stroke-width="0.8"/>
<rect x="1463.0" y="1486.7" width="165.0" height="12.5" fill="#231f20"/>
<rect x="1624.8" y="1434.0" width="3.5" height="97.0" fill="#231f20"/>
<rect x="1578.0" y="1454.0" width="58.2" height="3.5" fill="#231f20"/>
<line x1="1658.5" y1="1454.8" x2="1658.5" y2="1474.8" stroke="#444" stroke-width="1.8"/>
<line x1="1658.5" y1="1454.8" x2="1658.5" y2="1474.8" stroke="#fff" stroke-width="0.6"/>
<path d="M1658.5,1474.8 A20.0,20.0 0 0 1 1638.5,1454.8" fill="none" stroke="#333" stroke-width="0.9"/>
<line x1="1627.8" y1="1415.0" x2="1606.8" y2="1415.0" stroke="#444" stroke-width="1.8"/>
<line x1="1627.8" y1="1415.0" x2="1606.8" y2="1415.0" stroke="#fff" stroke-width="0.6"/>
<path d="M1606.8,1415.0 A21.0,21.0 0 0 0 1627.8,1436.0" fill="none" stroke="#333" stroke-width="0.9"/>
<line x1="1495.4" y1="1423.0" x2="1513.8" y2="1423.0" stroke="#444" stroke-width="1.8"/>
<line x1="1495.4" y1="1423.0" x2="1513.8" y2="1423.0" stroke="#fff" stroke-width="0.6"/>
<path d="M1513.8,1423.0 A18.4,18.4 0 0 1 1495.4,1441.4" fill="none" stroke="#333" stroke-width="0.9"/>
<line x1="1495.4" y1="1563.5" x2="1513.8" y2="1563.5" stroke="#444" stroke-width="1.8"/>
<line x1="1495.4" y1="1563.5" x2="1513.8" y2="1563.5" stroke="#fff" stroke-width="0.6"/>
<path d="M1513.8,1563.5 A18.4,18.4 0 0 0 1495.4,1545.1" fill="none" stroke="#333" stroke-width="0.9"/>
<line x1="1495.4" y1="1412.0" x2="1495.4" y2="1423.0" stroke="#777" stroke-width="1.2"/>
<line x1="1495.4" y1="1563.5" x2="1495.4" y2="1573.0" stroke="#777" stroke-width="1.2"/>
<line x1="1496.0" y1="1499.0" x2="1496.0" y2="1531.0" stroke="#333" stroke-width="1.0"/>
<line x1="1514.0" y1="1499.0" x2="1514.0" y2="1531.0" stroke="#333" stroke-width="1.0"/>
<line x1="1532.0" y1="1499.0" x2="1532.0" y2="1531.0" stroke="#333" stroke-width="1.0"/>
<line x1="1551.5" y1="1499.0" x2="1551.5" y2="1531.0" stroke="#333" stroke-width="1.0"/>
<line x1="1569.5" y1="1499.0" x2="1569.5" y2="1531.0" stroke="#333" stroke-width="1.0"/>
<line x1="1587.5" y1="1499.0" x2="1587.5" y2="1531.0" stroke="#333" stroke-width="1.0"/>
<line x1="1607.0" y1="1499.0" x2="1607.0" y2="1531.0" stroke="#333" stroke-width="1.0"/>
<line x1="1625.0" y1="1499.0" x2="1625.0" y2="1531.0" stroke="#333" stroke-width="1.0"/>
<line x1="1496.0" y1="1455.0" x2="1496.0" y2="1487.0" stroke="#333" stroke-width="1.0"/>
<line x1="1514.0" y1="1455.0" x2="1514.0" y2="1487.0" stroke="#333" stroke-width="1.0"/>
<line x1="1532.0" y1="1455.0" x2="1532.0" y2="1487.0" stroke="#333" stroke-width="1.0"/>
<line x1="1551.5" y1="1455.0" x2="1551.5" y2="1487.0" stroke="#333" stroke-width="1.0"/>
<ellipse cx="1505" cy="1508" rx="3" ry="4.5" fill="none" stroke="#555" stroke-width="0.8"/>
<ellipse cx="1523" cy="1508" rx="3" ry="4.5" fill="none" stroke="#555" stroke-width="0.8"/>
<ellipse cx="1541" cy="1508" rx="3" ry="4.5" fill="none" stroke="#555" stroke-width="0.8"/>
<ellipse cx="1560.5" cy="1508" rx="3" ry="4.5" fill="none" stroke="#555" stroke-width="0.8"/>
<ellipse cx="1578.5" cy="1508" rx="3" ry="4.5" fill="none" stroke="#555" stroke-width="0.8"/>
<ellipse cx="1596.5" cy="1508" rx="3" ry="4.5" fill="none" stroke="#555" stroke-width="0.8"/>
<ellipse cx="1616" cy="1508" rx="3" ry="4.5" fill="none" stroke="#555" stroke-width="0.8"/>
<ellipse cx="1505" cy="1477" rx="3" ry="4.5" fill="none" stroke="#555" stroke-width="0.8"/>
<ellipse cx="1523" cy="1477" rx="3" ry="4.5" fill="none" stroke="#555" stroke-width="0.8"/>
<ellipse cx="1541" cy="1477" rx="3" ry="4.5" fill="none" stroke="#555" stroke-width="0.8"/>
<ellipse cx="1472" cy="1477" rx="3" ry="4.5" fill="none" stroke="#555" stroke-width="0.8"/>
<ellipse cx="1472" cy="1508" rx="3" ry="4.5" fill="none" stroke="#555" stroke-width="0.8"/>
<rect x="1528" y="1413" width="50" height="12.7" fill="none" stroke="#666" stroke-width="0.8"/>
<rect x="1531" y="1560" width="63.6" height="12.7" fill="none" stroke="#666" stroke-width="0.8"/>
<rect x="1536" y="1416" width="8" height="7" fill="none" stroke="#555" stroke-width="0.8"/>
<rect x="1549" y="1416" width="8" height="7" fill="none" stroke="#555" stroke-width="0.8"/>
<rect x="1562" y="1416" width="8" height="7" fill="none" stroke="#555" stroke-width="0.8"/>
<rect x="1537" y="1563" width="8" height="7" fill="none" stroke="#555" stroke-width="0.8"/>
<rect x="1552" y="1563" width="8" height="7" fill="none" stroke="#555" stroke-width="0.8"/>
<rect x="1567" y="1563" width="8" height="7" fill="none" stroke="#555" stroke-width="0.8"/>
<rect x="1582" y="1563" width="8" height="7" fill="none" stroke="#555" stroke-width="0.8"/>
<rect x="1467" y="1413" width="12" height="9" fill="none" stroke="#555" stroke-width="0.8"/>
<rect x="1467" y="1563" width="12" height="9" fill="none" stroke="#555" stroke-width="0.8"/>
<text x="1746.7" y="1469.4" font-size="15.3" text-anchor="middle">1601</text>
<polygon points="1806.2,1360.0 1810.6,1359.2 1844.6,1546.0 1840.2,1546.8" fill="#231f20"/>
<polygon points="1833.7,1544.5 1843.5,1542.5 1846.3,1558.0 1836.2,1560.0" fill="#231f20"/>
<circle cx="1797.7" cy="1422.9" r="6.6" fill="#231f20"/>
<polyline points="1834.7,1466.0 1871.5,1460.2 1873.5,1462.0" fill="none" stroke="#444" stroke-width="0.9"/>
<polyline points="1834.7,1466.0 1836.0,1487.0" fill="none" stroke="#444" stroke-width="0.9"/>
<polyline points="1872.6,1461.2 1887.2,1539.0 1884.5,1539.5 1870.0,1462.0" fill="none" stroke="#444" stroke-width="0.9"/>
<line x1="1836.3" y1="1488.0" x2="1875.2" y2="1481.2" stroke="#555" stroke-width="0.8"/>
<line x1="1837.3" y1="1493.6" x2="1876.3" y2="1486.7" stroke="#555" stroke-width="0.8"/>
<line x1="1838.2" y1="1499.2" x2="1877.3" y2="1492.3" stroke="#555" stroke-width="0.8"/>
<line x1="1839.2" y1="1504.8" x2="1878.4" y2="1497.9" stroke="#555" stroke-width="0.8"/>
<line x1="1840.1" y1="1510.4" x2="1879.4" y2="1503.5" stroke="#555" stroke-width="0.8"/>
<line x1="1841.1" y1="1516.0" x2="1880.5" y2="1509.1" stroke="#555" stroke-width="0.8"/>
<line x1="1842.1" y1="1521.6" x2="1881.5" y2="1514.7" stroke="#555" stroke-width="0.8"/>
<line x1="1843.0" y1="1527.2" x2="1882.6" y2="1520.2" stroke="#555" stroke-width="0.8"/>
<line x1="1844.0" y1="1532.8" x2="1883.6" y2="1525.8" stroke="#555" stroke-width="0.8"/>
<line x1="1844.9" y1="1538.4" x2="1884.7" y2="1531.4" stroke="#555" stroke-width="0.8"/>
<line x1="1845.9" y1="1544.0" x2="1885.7" y2="1537.0" stroke="#555" stroke-width="0.8"/>
<polyline points="1836.0,1487.0 1851.0,1477.0 1853.0,1471.0 1856.5,1479.0 1858.0,1473.0 1872.0,1464.0" fill="none" stroke="#555" stroke-width="0.8"/>
<polyline points="1836.0,1487.0 1846.5,1549.0" fill="none" stroke="#777" stroke-width="0.9"/>
<text x="1967.0" y="1504.1" font-size="15.3" text-anchor="middle">1100</text>
<circle cx="1966.7" cy="1470.6" r="6.6" fill="#231f20"/>
<rect x="1556.0" y="1631.6" width="137.0" height="3.9" fill="#231f20"/>
<rect x="1803.5" y="1650.3" width="31.2" height="5.3" fill="#231f20"/>
<rect x="1834.7" y="1631.6" width="22.3" height="24.0" fill="#231f20"/>
<line x1="1857.0" y1="1636.4" x2="1857.0" y2="1654.9" stroke="#444" stroke-width="1.8"/>
<line x1="1857.0" y1="1636.4" x2="1857.0" y2="1654.9" stroke="#fff" stroke-width="0.6"/>
<path d="M1857.0,1654.9 A18.5,18.5 0 0 0 1875.5,1636.4" fill="none" stroke="#333" stroke-width="0.9"/>
<line x1="1894.2" y1="1636.4" x2="1894.2" y2="1654.9" stroke="#444" stroke-width="1.8"/>
<line x1="1894.2" y1="1636.4" x2="1894.2" y2="1654.9" stroke="#fff" stroke-width="0.6"/>
<path d="M1894.2,1654.9 A18.5,18.5 0 0 1 1875.7,1636.4" fill="none" stroke="#333" stroke-width="0.9"/>
<rect x="1894.7" y="1631.6" width="30.3" height="4.1" fill="#231f20"/>
<rect x="1897.0" y="1631.6" width="19.4" height="28.4" fill="#231f20"/>
<line x1="1926.2" y1="1632.5" x2="1926.2" y2="1613.5" stroke="#444" stroke-width="1.8"/>
<line x1="1926.2" y1="1632.5" x2="1926.2" y2="1613.5" stroke="#fff" stroke-width="0.6"/>
<path d="M1926.2,1613.5 A19.0,19.0 0 0 1 1945.2,1632.5" fill="none" stroke="#333" stroke-width="0.9"/>
<line x1="1945.0" y1="1632.5" x2="2018.6" y2="1632.5" stroke="#888" stroke-width="1.3"/>
<line x1="1945.0" y1="1635.3" x2="2018.6" y2="1635.3" stroke="#888" stroke-width="1.3"/>
<rect x="2018.6" y="1631.6" width="59.4" height="4.8" fill="#231f20"/>
<rect x="2078.0" y="1624.7" width="22.0" height="11.7" fill="#231f20"/>
<rect x="2074.7" y="1614.6" width="10" height="10" fill="none" stroke="#555" stroke-width="0.8"/>
<line x1="2081.0" y1="1614.6" x2="2081.1" y2="1614.6" stroke="#444" stroke-width="1.8"/>
<line x1="2081.0" y1="1614.6" x2="2081.1" y2="1614.6" stroke="#fff" stroke-width="0.6"/>
<path d="M2081.1,1614.6 A0.1,0.1 0 0 1 2081.0,1614.7" fill="none" stroke="#333" stroke-width="0.9"/>
<rect x="945.9" y="1625.1" width="121.7" height="15.9" fill="#231f20"/>
<rect x="945.9" y="1625.1" width="11.9" height="263.4" fill="#231f20"/>
<rect x="945.9" y="1670.0" width="11.9" height="37.2" fill="#fff"/>
<rect x="945.6" y="1670.0" width="1.1" height="37.2" fill="#999"/>
<rect x="947.5" y="1670.0" width="1.1" height="37.2" fill="#999"/>
<rect x="957.0" y="1670.0" width="1.1" height="37.2" fill="#999"/>
<rect x="945.9" y="1727.0" width="11.9" height="58.3" fill="#fff"/>
<rect x="945.6" y="1727.0" width="1.1" height="58.3" fill="#999"/>
<rect x="947.5" y="1727.0" width="1.1" height="58.3" fill="#999"/>
<rect x="957.0" y="1727.0" width="1.1" height="58.3" fill="#999"/>
<rect x="945.9" y="1805.0" width="11.9" height="38.0" fill="#fff"/>
<rect x="945.6" y="1805.0" width="1.1" height="38.0" fill="#999"/>
<rect x="947.5" y="1805.0" width="1.1" height="38.0" fill="#999"/>
<rect x="957.0" y="1805.0" width="1.1" height="38.0" fill="#999"/>
<rect x="957.0" y="1641.0" width="8.0" height="3.5" fill="#231f20"/>
<rect x="957.0" y="1870.0" width="8.0" height="3.0" fill="#231f20"/>
<rect x="945.9" y="1872.6" width="128.4" height="15.9" fill="#231f20"/>
<rect x="1055.7" y="1868.7" width="18.6" height="67.5" fill="#231f20"/>
<rect x="1055.7" y="1925.6" width="243.5" height="10.6" fill="#231f20"/>
<rect x="1092.0" y="1925.6" width="37.0" height="10.6" fill="#fff"/>
<rect x="1092.0" y="1925.3" width="37.0" height="1.1" fill="#999"/>
<rect x="1092.0" y="1933.5" width="37.0" height="1.1" fill="#999"/>
<rect x="1092.0" y="1935.4" width="37.0" height="1.1" fill="#999"/>
<rect x="1151.0" y="1925.6" width="54.8" height="10.6" fill="#fff"/>
<rect x="1151.0" y="1925.3" width="54.8" height="1.1" fill="#999"/>
<rect x="1151.0" y="1933.5" width="54.8" height="1.1" fill="#999"/>
<rect x="1151.0" y="1935.4" width="54.8" height="1.1" fill="#999"/>
<rect x="1227.8" y="1925.6" width="36.2" height="10.6" fill="#fff"/>
<rect x="1227.8" y="1925.3" width="36.2" height="1.1" fill="#999"/>
<rect x="1227.8" y="1933.5" width="36.2" height="1.1" fill="#999"/>
<rect x="1227.8" y="1935.4" width="36.2" height="1.1" fill="#999"/>
<rect x="1279.4" y="1868.7" width="19.8" height="67.5" fill="#231f20"/>
<rect x="960.5" y="1620.5" width="3.5" height="2.5" fill="#231f20"/>
<rect x="960.5" y="1890.5" width="3.5" height="2.5" fill="#231f20"/>
<rect x="1051.5" y="1919.0" width="3.0" height="4.0" fill="#231f20"/>
<rect x="1302.0" y="1919.0" width="3.0" height="4.0" fill="#231f20"/>
<text x="1175.4" y="1756.0" font-size="15.3" text-anchor="middle">1703</text>
<rect x="1279.4" y="1626.5" width="4.8" height="221.0" fill="#231f20"/>
<line x1="1280.0" y1="1867.3" x2="1299.0" y2="1867.3" stroke="#444" stroke-width="1.8"/>
<line x1="1280.0" y1="1867.3" x2="1299.0" y2="1867.3" stroke="#fff" stroke-width="0.6"/>
<path d="M1299.0,1867.3 A19.0,19.0 0 0 0 1280.0,1848.3" fill="none" stroke="#333" stroke-width="0.9"/>
<rect x="1279.4" y="1633.7" width="13.0" height="18.0" fill="none"/>
<rect x="1281" y="1633.7" width="9" height="17" fill="none" stroke="#231f20" stroke-width="2.4"/>
<line x1="1295.3" y1="1651.6" x2="1295.3" y2="1631.6" stroke="#444" stroke-width="1.8"/>
<line x1="1295.3" y1="1651.6" x2="1295.3" y2="1631.6" stroke="#fff" stroke-width="0.6"/>
<path d="M1295.3,1631.6 A20.0,20.0 0 0 1 1315.3,1651.6" fill="none" stroke="#333" stroke-width="0.9"/>
<rect x="1315.0" y="1649.0" width="26.6" height="3.4" fill="#231f20"/>
<rect x="1341.6" y="1631.8" width="4.0" height="57.7" fill="#231f20"/>
<rect x="1341.6" y="1685.3" width="177.4" height="4.2" fill="#231f20"/>
<rect x="1515.0" y="1631.8" width="4.0" height="57.7" fill="#231f20"/>
<line x1="1347.7" y1="1633.3" x2="1448.3" y2="1633.3" stroke="#999" stroke-width="1.2"/>
<line x1="1347.7" y1="1635.8" x2="1448.3" y2="1635.8" stroke="#999" stroke-width="1.0"/>
<rect x="1448.3" y="1631.8" width="45.5" height="4.0" fill="#231f20"/>
<rect x="1454.0" y="1635.7" width="12.0" height="8.0" fill="#231f20"/>
<line x1="1513.6" y1="1633.0" x2="1513.6" y2="1653.0" stroke="#444" stroke-width="1.8"/>
<line x1="1513.6" y1="1633.0" x2="1513.6" y2="1653.0" stroke="#fff" stroke-width="0.6"/>
<path d="M1513.6,1653.0 A20.0,20.0 0 0 1 1493.6,1633.0" fill="none" stroke="#333" stroke-width="0.9"/>
<rect x="1519.0" y="1649.0" width="17.1" height="3.4" fill="#231f20"/>
<line x1="1556.0" y1="1652.0" x2="1556.0" y2="1632.0" stroke="#444" stroke-width="1.8"/>
<line x1="1556.0" y1="1652.0" x2="1556.0" y2="1632.0" stroke="#fff" stroke-width="0.6"/>
<path d="M1556.0,1632.0 A20.0,20.0 0 0 0 1536.0,1652.0" fill="none" stroke="#333" stroke-width="0.9"/>
<rect x="1556.4" y="1631.8" width="4.2" height="256.7" fill="#231f20"/>
<text x="1430.3" y="1668.6" font-size="15.3" text-anchor="middle">1705</text>
<text x="1413.9" y="1755.2" font-size="15.3" text-anchor="middle">1704</text>
<rect x="1279.4" y="1868.7" width="14.6" height="19.8" fill="#231f20"/>
<rect x="1279.4" y="1876.6" width="83.4" height="11.9" fill="#231f20"/>
<rect x="1362.8" y="1876.6" width="35.7" height="11.9" fill="#fff"/>
<rect x="1362.8" y="1876.3" width="35.7" height="1.1" fill="#999"/>
<rect x="1362.8" y="1885.8" width="35.7" height="1.1" fill="#999"/>
<rect x="1362.8" y="1887.7" width="35.7" height="1.1" fill="#999"/>
<rect x="1409.0" y="1876.6" width="34.5" height="11.9" fill="#fff"/>
<rect x="1409.0" y="1876.3" width="34.5" height="1.1" fill="#999"/>
<rect x="1409.0" y="1885.8" width="34.5" height="1.1" fill="#999"/>
<rect x="1409.0" y="1887.7" width="34.5" height="1.1" fill="#999"/>
<rect x="1475.3" y="1876.6" width="35.7" height="11.9" fill="#fff"/>
<rect x="1475.3" y="1876.3" width="35.7" height="1.1" fill="#999"/>
<rect x="1475.3" y="1885.8" width="35.7" height="1.1" fill="#999"/>
<rect x="1475.3" y="1887.7" width="35.7" height="1.1" fill="#999"/>
<rect x="1521.6" y="1876.6" width="34.8" height="11.9" fill="#fff"/>
<rect x="1521.6" y="1876.3" width="34.8" height="1.1" fill="#999"/>
<rect x="1521.6" y="1885.8" width="34.8" height="1.1" fill="#999"/>
<rect x="1521.6" y="1887.7" width="34.8" height="1.1" fill="#999"/>
<rect x="1398.5" y="1876.6" width="10.5" height="11.9" fill="#231f20"/>
<rect x="1443.5" y="1876.6" width="31.8" height="11.9" fill="#231f20"/>
<rect x="1511.0" y="1876.6" width="10.6" height="11.9" fill="#231f20"/>
<rect x="1454" y="1870.5" width="8" height="6" fill="none" stroke="#231f20" stroke-width="1.6"/>
<rect x="1462" y="1870.5" width="7" height="6" fill="none" stroke="#777" stroke-width="0.9"/>
<rect x="1556.4" y="1631.8" width="136.6" height="4.0" fill="#231f20"/>
<rect x="1623.4" y="1635.7" width="11.4" height="8.0" fill="#231f20"/>
<rect x="1556.4" y="1876.6" width="32.0" height="11.9" fill="#231f20"/>
<rect x="1561" y="1871" width="27" height="6" fill="none" stroke="#231f20" stroke-width="1.6"/>
<rect x="1588.4" y="1876.6" width="35.0" height="11.9" fill="#fff"/>
<rect x="1588.4" y="1876.3" width="35.0" height="1.1" fill="#999"/>
<rect x="1588.4" y="1885.8" width="35.0" height="1.1" fill="#999"/>
<rect x="1588.4" y="1887.7" width="35.0" height="1.1" fill="#999"/>
<rect x="1623.4" y="1870.0" width="11.4" height="18.5" fill="#231f20"/>
<rect x="1634.8" y="1876.6" width="34.4" height="11.9" fill="#fff"/>
<rect x="1634.8" y="1876.3" width="34.4" height="1.1" fill="#999"/>
<rect x="1634.8" y="1885.8" width="34.4" height="1.1" fill="#999"/>
<rect x="1634.8" y="1887.7" width="34.4" height="1.1" fill="#999"/>
<rect x="1669.2" y="1876.6" width="23.8" height="11.9" fill="#231f20"/>
<line x1="1693.0" y1="1883.0" x2="1735.9" y2="1883.0" stroke="#888" stroke-width="1.0"/>
<line x1="1693.0" y1="1877.0" x2="1735.9" y2="1877.0" stroke="#888" stroke-width="1.0"/>
<line x1="1694.3" y1="1884.5" x2="1694.3" y2="1904.8" stroke="#444" stroke-width="1.8"/>
<line x1="1694.3" y1="1884.5" x2="1694.3" y2="1904.8" stroke="#fff" stroke-width="0.6"/>
<path d="M1694.3,1904.8 A20.3,20.3 0 0 0 1714.6,1884.5" fill="none" stroke="#333" stroke-width="0.9"/>
<line x1="1734.5" y1="1884.5" x2="1734.5" y2="1904.8" stroke="#444" stroke-width="1.8"/>
<line x1="1734.5" y1="1884.5" x2="1734.5" y2="1904.8" stroke="#fff" stroke-width="0.6"/>
<path d="M1734.5,1904.8 A20.3,20.3 0 0 1 1714.2,1884.5" fill="none" stroke="#333" stroke-width="0.9"/>
<rect x="1735.9" y="1870.0" width="11.1" height="18.5" fill="#231f20"/>
<rect x="1747.0" y="1876.6" width="34.4" height="11.9" fill="#fff"/>
<rect x="1747.0" y="1876.3" width="34.4" height="1.1" fill="#999"/>
<rect x="1747.0" y="1885.8" width="34.4" height="1.1" fill="#999"/>
<rect x="1747.0" y="1887.7" width="34.4" height="1.1" fill="#999"/>
<text x="1679.0" y="1759.1" font-size="15.3" text-anchor="middle">1706</text>
<rect x="1781.4" y="1870.0" width="32.6" height="18.5" fill="#231f20"/>
<rect x="1791.5" y="1631.8" width="11.9" height="256.7" fill="#231f20"/>
<rect x="1781.4" y="1631.8" width="22.0" height="3.9" fill="#231f20"/>
<rect x="1803.4" y="1650.3" width="51.6" height="5.3" fill="#231f20"/>
<rect x="1835.0" y="1631.8" width="22.0" height="23.8" fill="#231f20"/>
<rect x="1894.7" y="1631.8" width="30.3" height="3.9" fill="#231f20"/>
<rect x="1894.7" y="1631.8" width="21.7" height="23.8" fill="#231f20"/>
<rect x="1904.7" y="1635.0" width="11.7" height="203.2" fill="#231f20"/>
<line x1="1917.5" y1="1666.0" x2="1917.5" y2="1836.0" stroke="#777" stroke-width="1.0"/>
<line x1="1857.6" y1="1711.0" x2="1904.0" y2="1711.0" stroke="#555" stroke-width="0.8"/>
<line x1="1857.6" y1="1716.8" x2="1904.0" y2="1716.8" stroke="#555" stroke-width="0.8"/>
<line x1="1857.6" y1="1722.6" x2="1904.0" y2="1722.6" stroke="#555" stroke-width="0.8"/>
<line x1="1857.6" y1="1728.4" x2="1904.0" y2="1728.4" stroke="#555" stroke-width="0.8"/>
<line x1="1857.6" y1="1734.2" x2="1904.0" y2="1734.2" stroke="#555" stroke-width="0.8"/>
<line x1="1857.6" y1="1740.0" x2="1904.0" y2="1740.0" stroke="#555" stroke-width="0.8"/>
<line x1="1857.6" y1="1745.8" x2="1904.0" y2="1745.8" stroke="#555" stroke-width="0.8"/>
<line x1="1857.6" y1="1751.6" x2="1904.0" y2="1751.6" stroke="#555" stroke-width="0.8"/>
<line x1="1857.6" y1="1757.4" x2="1904.0" y2="1757.4" stroke="#555" stroke-width="0.8"/>
<line x1="1857.6" y1="1763.2" x2="1904.0" y2="1763.2" stroke="#555" stroke-width="0.8"/>
<line x1="1857.6" y1="1769.0" x2="1904.0" y2="1769.0" stroke="#555" stroke-width="0.8"/>
<line x1="1857.6" y1="1774.8" x2="1904.0" y2="1774.8" stroke="#555" stroke-width="0.8"/>
<line x1="1857.6" y1="1780.6" x2="1904.0" y2="1780.6" stroke="#555" stroke-width="0.8"/>
<line x1="1857.6" y1="1786.4" x2="1904.0" y2="1786.4" stroke="#555" stroke-width="0.8"/>
<line x1="1880.0" y1="1705.9" x2="1880.0" y2="1790.0" stroke="#555" stroke-width="0.8"/>
<line x1="1857.6" y1="1705.9" x2="1857.6" y2="1787.0" stroke="#555" stroke-width="0.9"/>
<line x1="1904.0" y1="1705.9" x2="1904.0" y2="1780.0" stroke="#555" stroke-width="0.9"/>
<polyline points="1857.6,1785.3 1857.6,1815.7 1904.7,1815.7" fill="none" stroke="#231f20" stroke-width="2.8"/>
<polyline points="1857.6,1785.0 1877.0,1776.5 1879.0,1770.5 1881.5,1779.0 1883.0,1774.0 1904.0,1765.0" fill="none" stroke="#555" stroke-width="0.8"/>
<line x1="1906.6" y1="1840.9" x2="1885.6" y2="1840.9" stroke="#444" stroke-width="1.8"/>
<line x1="1906.6" y1="1840.9" x2="1885.6" y2="1840.9" stroke="#fff" stroke-width="0.6"/>
<path d="M1885.6,1840.9 A21.0,21.0 0 0 0 1906.6,1861.9" fill="none" stroke="#333" stroke-width="0.9"/>
<rect x="1905.2" y="1860.7" width="4.0" height="10.3" fill="#231f20"/>
<rect x="1814.0" y="1876.6" width="12.0" height="11.9" fill="#fff"/>
<rect x="1814.0" y="1876.3" width="12.0" height="1.1" fill="#999"/>
<rect x="1814.0" y="1885.8" width="12.0" height="1.1" fill="#999"/>
<rect x="1814.0" y="1887.7" width="12.0" height="1.1" fill="#999"/>
<line x1="1847.0" y1="1884.5" x2="1847.0" y2="1905.5" stroke="#444" stroke-width="1.8"/>
<line x1="1847.0" y1="1884.5" x2="1847.0" y2="1905.5" stroke="#fff" stroke-width="0.6"/>
<path d="M1847.0,1905.5 A21.0,21.0 0 0 1 1826.0,1884.5" fill="none" stroke="#333" stroke-width="0.9"/>
<line x1="1860.3" y1="1884.5" x2="1860.3" y2="1905.5" stroke="#444" stroke-width="1.8"/>
<line x1="1860.3" y1="1884.5" x2="1860.3" y2="1905.5" stroke="#fff" stroke-width="0.6"/>
<path d="M1860.3,1905.5 A21.0,21.0 0 0 0 1881.3,1884.5" fill="none" stroke="#333" stroke-width="0.9"/>
<rect x="1849.2" y="1876.6" width="10.5" height="11.9" fill="#231f20"/>
<rect x="1881.5" y="1876.6" width="13.2" height="11.9" fill="#fff"/>
<rect x="1881.5" y="1876.3" width="13.2" height="1.1" fill="#999"/>
<rect x="1881.5" y="1885.8" width="13.2" height="1.1" fill="#999"/>
<rect x="1881.5" y="1887.7" width="13.2" height="1.1" fill="#999"/>
<text x="1864.2" y="1688.5" font-size="15.3" text-anchor="middle">S0107</text>
<rect x="1894.7" y="1870.0" width="25.1" height="18.5" fill="#231f20"/>
<rect x="1919.8" y="1876.6" width="37.9" height="11.9" fill="#fff"/>
<rect x="1919.8" y="1876.3" width="37.9" height="1.1" fill="#999"/>
<rect x="1919.8" y="1885.8" width="37.9" height="1.1" fill="#999"/>
<rect x="1919.8" y="1887.7" width="37.9" height="1.1" fill="#999"/>
<rect x="1957.7" y="1876.6" width="19.0" height="11.9" fill="#231f20"/>
<rect x="1976.7" y="1876.6" width="37.1" height="11.9" fill="#fff"/>
<rect x="1976.7" y="1876.3" width="37.1" height="1.1" fill="#999"/>
<rect x="1976.7" y="1885.8" width="37.1" height="1.1" fill="#999"/>
<rect x="1976.7" y="1887.7" width="37.1" height="1.1" fill="#999"/>
<rect x="2013.8" y="1876.6" width="37.6" height="11.9" fill="#231f20"/>
<rect x="2051.4" y="1876.6" width="56.4" height="11.9" fill="#fff"/>
<rect x="2051.4" y="1876.3" width="56.4" height="1.1" fill="#999"/>
<rect x="2051.4" y="1885.8" width="56.4" height="1.1" fill="#999"/>
<rect x="2051.4" y="1887.7" width="56.4" height="1.1" fill="#999"/>
<polygon points="2107.8,1876.6 2129.7,1876.6 2129.7,1863.4 2148.8,1863.4 2148.8,1888.5 2107.8,1888.5" fill="#231f20"/>
<rect x="2138.0" y="1625.1" width="10.8" height="263.4" fill="#231f20"/>
<rect x="2138.0" y="1650.3" width="10.8" height="49.7" fill="#fff"/>
<rect x="2137.7" y="1650.3" width="1.1" height="49.7" fill="#999"/>
<rect x="2146.1" y="1650.3" width="1.1" height="49.7" fill="#999"/>
<rect x="2148.0" y="1650.3" width="1.1" height="49.7" fill="#999"/>
<rect x="2138.0" y="1723.9" width="10.8" height="66.1" fill="#fff"/>
<rect x="2137.7" y="1723.9" width="1.1" height="66.1" fill="#999"/>
<rect x="2146.1" y="1723.9" width="1.1" height="66.1" fill="#999"/>
<rect x="2148.0" y="1723.9" width="1.1" height="66.1" fill="#999"/>
<rect x="2138.0" y="1813.0" width="10.8" height="51.0" fill="#fff"/>
<rect x="2137.7" y="1813.0" width="1.1" height="51.0" fill="#999"/>
<rect x="2146.1" y="1813.0" width="1.1" height="51.0" fill="#999"/>
<rect x="2148.0" y="1813.0" width="1.1" height="51.0" fill="#999"/>
<rect x="2129.7" y="1700.0" width="19.1" height="23.9" fill="#231f20"/>
<rect x="2129.7" y="1790.0" width="19.1" height="23.0" fill="#231f20"/>
<rect x="2080.0" y="1625.1" width="68.8" height="11.9" fill="#231f20"/>
<rect x="2129.7" y="1637.0" width="19.1" height="13.3" fill="#231f20"/>
<rect x="2019.0" y="1632.0" width="61.0" height="5.0" fill="#231f20"/>
<rect x="2130.0" y="1892.0" width="4.5" height="2.5" fill="#231f20"/>
<text x="2033.6" y="1755.2" font-size="15.3" text-anchor="middle">1800</text>
<polyline points="1340.3,1888.5 1340.3,1965.3" fill="none" stroke="#555" stroke-width="1.0"/>
<rect x="1346.9" y="1888.5" width="4.0" height="76.8" fill="#231f20"/>
<rect x="1340.3" y="1965.3" width="18.5" height="18.5" fill="#231f20"/>
<rect x="1358.8" y="1971.5" width="5.2" height="6.0" fill="#231f20"/>
<line x1="1364.0" y1="1973.4" x2="1443.8" y2="1973.4" stroke="#777" stroke-width="1.0"/>
<line x1="1364.0" y1="1978.3" x2="1443.8" y2="1978.3" stroke="#777" stroke-width="1.0"/>
<rect x="1443.7" y="1972.0" width="32.0" height="6.5" fill="#231f20"/>
<rect x="1450.7" y="1969.2" width="18.0" height="13.6" fill="#231f20"/>
<rect x="1556.3" y="1972.0" width="32.0" height="6.5" fill="#231f20"/>
<rect x="1563.3" y="1969.2" width="18.0" height="13.6" fill="#231f20"/>
<rect x="1669.1" y="1972.0" width="32.0" height="6.5" fill="#231f20"/>
<rect x="1676.1" y="1969.2" width="18.0" height="13.6" fill="#231f20"/>
<rect x="1781.7" y="1972.0" width="32.0" height="6.5" fill="#231f20"/>
<rect x="1788.7" y="1969.2" width="18.0" height="13.6" fill="#231f20"/>
<line x1="1475.5" y1="1978.3" x2="1556.5" y2="1978.3" stroke="#333" stroke-width="1.5"/>
<line x1="1588.0" y1="1973.4" x2="1669.2" y2="1973.4" stroke="#777" stroke-width="1.0"/>
<line x1="1588.0" y1="1978.3" x2="1669.2" y2="1978.3" stroke="#777" stroke-width="1.0"/>
<line x1="1701.0" y1="1978.3" x2="1781.4" y2="1978.3" stroke="#333" stroke-width="1.5"/>
<line x1="1814.0" y1="1973.4" x2="1892.0" y2="1973.4" stroke="#777" stroke-width="1.0"/>
<line x1="1814.0" y1="1978.3" x2="1892.0" y2="1978.3" stroke="#777" stroke-width="1.0"/>
<polygon points="1892.0,1972.0 1899.0,1972.0 1899.0,1965.5 1904.0,1965.5 1904.0,1958.6 1913.0,1958.6 1913.0,1965.5 1917.0,1965.5 1917.0,1972.0 1921.2,1972.0 1921.2,1982.5 1898.0,1982.5 1898.0,1978.5 1892.0,1978.5" fill="#231f20"/>
<line x1="1921.2" y1="1888.5" x2="1921.2" y2="1958" stroke="#888" stroke-width="1" stroke-dasharray="4 3"/>
<rect x="1463" y="1982.8" width="101.3" height="36" fill="none" stroke="#888" stroke-width="1"/>
<line x1="1463.0" y1="1990.4" x2="1564.3" y2="1990.4" stroke="#888" stroke-width="0.9"/>
<line x1="1463.0" y1="1999.6" x2="1564.3" y2="1999.6" stroke="#888" stroke-width="0.9"/>
<line x1="1463.0" y1="2009.7" x2="1564.3" y2="2009.7" stroke="#888" stroke-width="0.9"/>
<rect x="1687.8" y="1982.8" width="101.3" height="75.8" fill="none" stroke="#888" stroke-width="1"/>
<line x1="1687.8" y1="1990.4" x2="1789.1" y2="1990.4" stroke="#888" stroke-width="0.9"/>
<line x1="1687.8" y1="1999.6" x2="1789.1" y2="1999.6" stroke="#888" stroke-width="0.9"/>
<line x1="1687.8" y1="2009.7" x2="1789.1" y2="2009.7" stroke="#888" stroke-width="0.9"/>
<line x1="1687.8" y1="2018.8" x2="1789.1" y2="2018.8" stroke="#888" stroke-width="0.9"/>
<line x1="1687.8" y1="2029.4" x2="1789.1" y2="2029.4" stroke="#888" stroke-width="0.9"/>
<line x1="1687.8" y1="2039.0" x2="1789.1" y2="2039.0" stroke="#888" stroke-width="0.9"/>
<line x1="1687.8" y1="2049.1" x2="1789.1" y2="2049.1" stroke="#888" stroke-width="0.9"/>
<text x="1638.0" y="1938.3" font-size="15.3" text-anchor="middle">1000H</text>
<rect x="1968.5" y="439.5" width="227.8" height="11.3" fill="#231f20"/>
<rect x="1968.5" y="405.0" width="10.7" height="45.8" fill="#231f20"/>
<rect x="2007.0" y="439.5" width="20.0" height="11.3" fill="#fff"/>
<rect x="2007.0" y="439.2" width="20.0" height="1.1" fill="#999"/>
<rect x="2007.0" y="441.1" width="20.0" height="1.1" fill="#999"/>
<rect x="2007.0" y="450.0" width="20.0" height="1.1" fill="#999"/>
<rect x="2031.4" y="439.5" width="20.8" height="11.3" fill="#fff"/>
<rect x="2031.4" y="439.2" width="20.8" height="1.1" fill="#999"/>
<rect x="2031.4" y="441.1" width="20.8" height="1.1" fill="#999"/>
<rect x="2031.4" y="450.0" width="20.8" height="1.1" fill="#999"/>
<rect x="2115.5" y="439.5" width="20.5" height="11.3" fill="#fff"/>
<rect x="2115.5" y="439.2" width="20.5" height="1.1" fill="#999"/>
<rect x="2115.5" y="441.1" width="20.5" height="1.1" fill="#999"/>
<rect x="2115.5" y="450.0" width="20.5" height="1.1" fill="#999"/>
<rect x="2139.8" y="439.5" width="20.4" height="11.3" fill="#fff"/>
<rect x="2139.8" y="439.2" width="20.4" height="1.1" fill="#999"/>
<rect x="2139.8" y="441.1" width="20.4" height="1.1" fill="#999"/>
<rect x="2139.8" y="450.0" width="20.4" height="1.1" fill="#999"/>
<rect x="2079.5" y="450.8" width="15.5" height="11.1" fill="#231f20"/>
<rect x="2079.6" y="461.9" width="2.9" height="75.9" fill="#231f20"/>
<line x1="2095.0" y1="462.0" x2="2095.0" y2="537.8" stroke="#888" stroke-width="0.9"/>
<rect x="2505.5" y="508.0" width="10.5" height="20.0" fill="#fff"/>
<rect x="2505.2" y="508.0" width="1.1" height="20.0" fill="#999"/>
<rect x="2513.3" y="508.0" width="1.1" height="20.0" fill="#999"/>
<rect x="2515.2" y="508.0" width="1.1" height="20.0" fill="#999"/>
<rect x="2505.5" y="568.0" width="10.5" height="20.0" fill="#fff"/>
<rect x="2505.2" y="568.0" width="1.1" height="20.0" fill="#999"/>
<rect x="2513.3" y="568.0" width="1.1" height="20.0" fill="#999"/>
<rect x="2515.2" y="568.0" width="1.1" height="20.0" fill="#999"/>
<rect x="2505.5" y="593.0" width="10.5" height="20.0" fill="#fff"/>
<rect x="2505.2" y="593.0" width="1.1" height="20.0" fill="#999"/>
<rect x="2513.3" y="593.0" width="1.1" height="20.0" fill="#999"/>
<rect x="2515.2" y="593.0" width="1.1" height="20.0" fill="#999"/>
<rect x="2505.5" y="654.7" width="10.5" height="18.9" fill="#fff"/>
<rect x="2505.2" y="654.7" width="1.1" height="18.9" fill="#999"/>
<rect x="2513.3" y="654.7" width="1.1" height="18.9" fill="#999"/>
<rect x="2515.2" y="654.7" width="1.1" height="18.9" fill="#999"/>
<circle cx="2198.4" cy="1637.6" r="11.6" fill="#231f20"/>
<rect x="2055.3" y="1033.0" width="78.7" height="7.0" fill="#231f20"/>
</svg></body></html>
